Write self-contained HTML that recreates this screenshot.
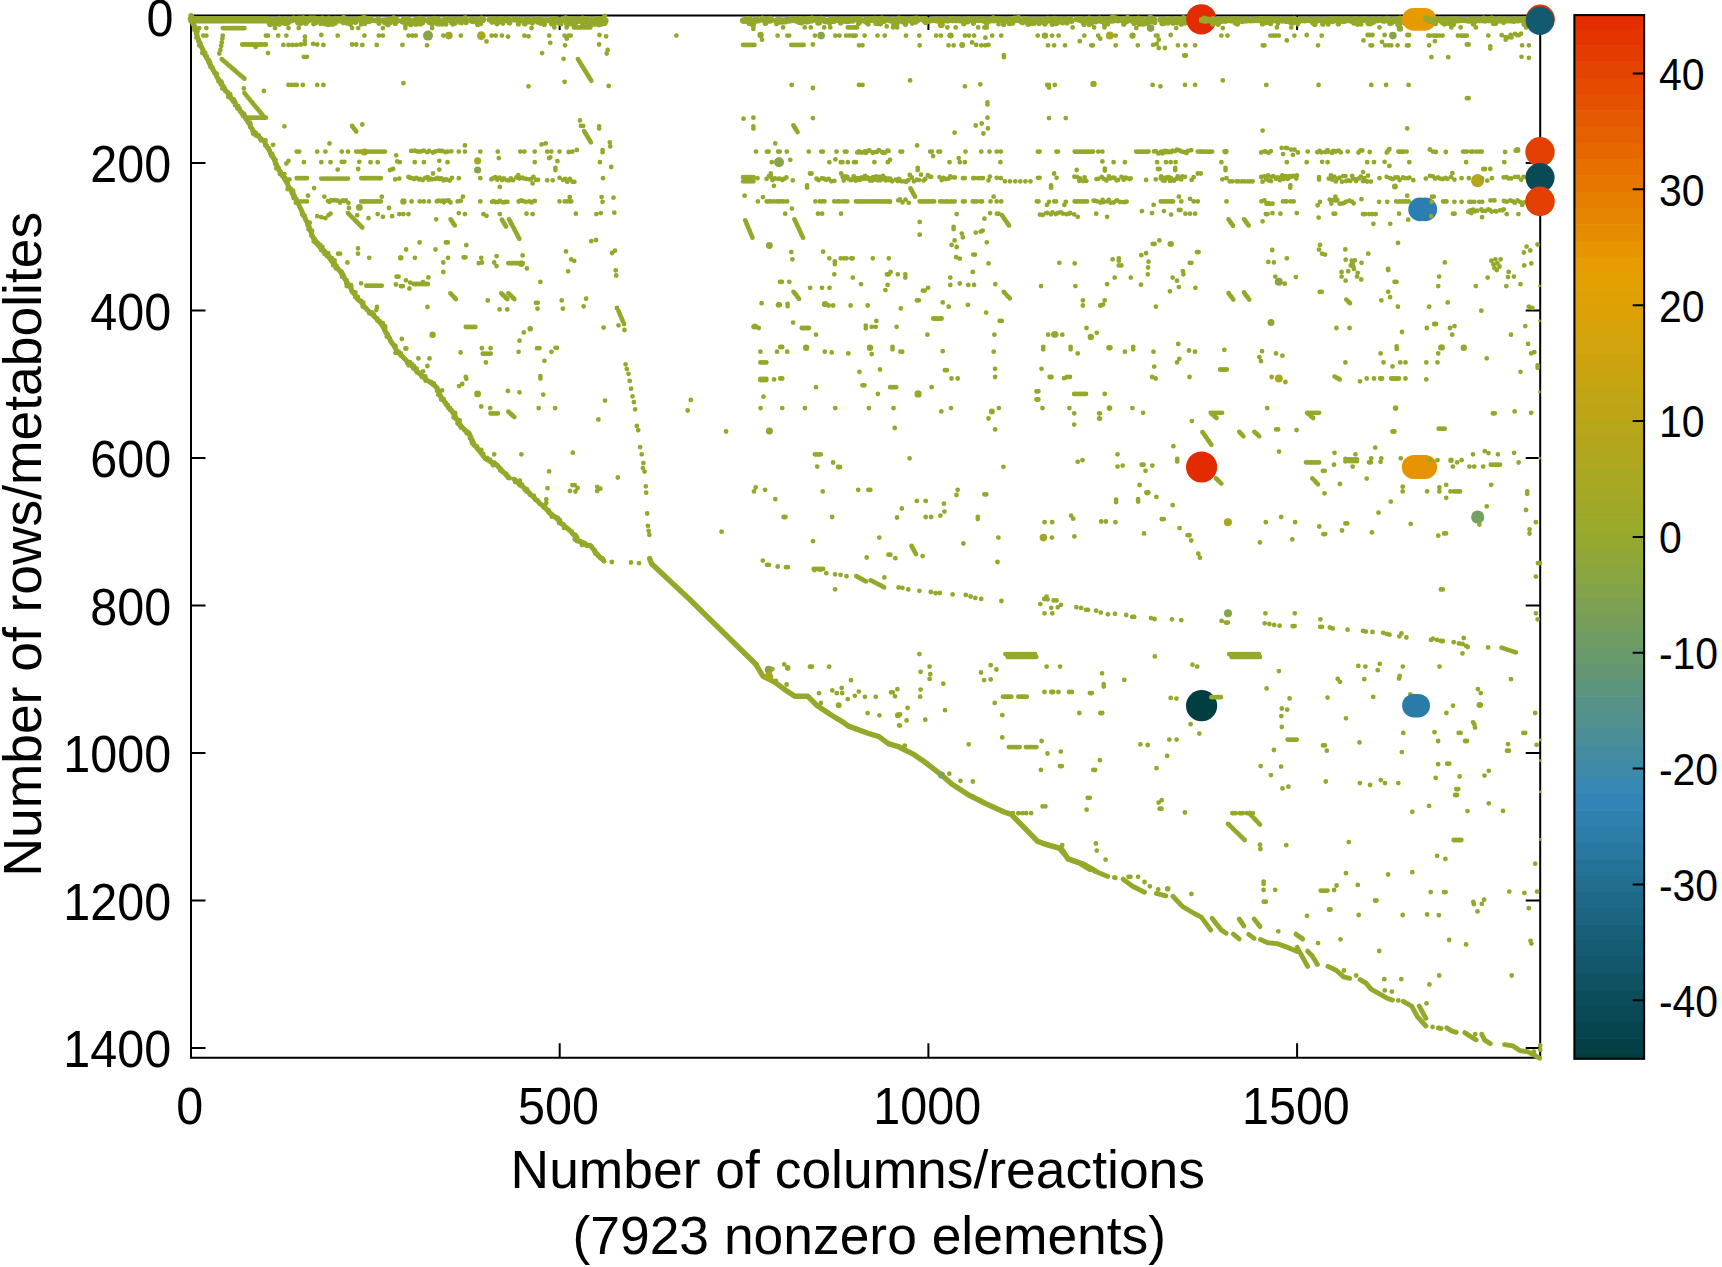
<!DOCTYPE html><html><head><meta charset="utf-8"><title>Sparsity pattern</title><style>html,body{margin:0;padding:0;background:#fff}svg{display:block}</style></head><body><svg width="1722" height="1267" viewBox="0 0 1722 1267" font-family="Liberation Sans, sans-serif" fill="#000">
<rect width="1722" height="1267" fill="#fff"/>
<rect x="1574.4" y="15.10" width="69.7" height="14.30" fill="#e52d00"/>
<rect x="1574.4" y="28.80" width="69.7" height="16.88" fill="#e53400"/>
<rect x="1574.4" y="45.08" width="69.7" height="16.88" fill="#e53b00"/>
<rect x="1574.4" y="61.36" width="69.7" height="16.88" fill="#e54300"/>
<rect x="1574.4" y="77.64" width="69.7" height="16.88" fill="#e54a00"/>
<rect x="1574.4" y="93.92" width="69.7" height="16.88" fill="#e55100"/>
<rect x="1574.4" y="110.20" width="69.7" height="16.88" fill="#e55900"/>
<rect x="1574.4" y="126.48" width="69.7" height="16.88" fill="#e56000"/>
<rect x="1574.4" y="142.76" width="69.7" height="16.88" fill="#e66700"/>
<rect x="1574.4" y="159.04" width="69.7" height="16.88" fill="#e66f00"/>
<rect x="1574.4" y="175.32" width="69.7" height="16.88" fill="#e67600"/>
<rect x="1574.4" y="191.60" width="69.7" height="16.88" fill="#e67e00"/>
<rect x="1574.4" y="207.88" width="69.7" height="16.88" fill="#e68500"/>
<rect x="1574.4" y="224.16" width="69.7" height="16.88" fill="#e68c00"/>
<rect x="1574.4" y="240.44" width="69.7" height="16.88" fill="#e69400"/>
<rect x="1574.4" y="256.72" width="69.7" height="16.88" fill="#e69b00"/>
<rect x="1574.4" y="273.00" width="69.7" height="16.88" fill="#e4a001"/>
<rect x="1574.4" y="289.28" width="69.7" height="16.88" fill="#e0a104"/>
<rect x="1574.4" y="305.56" width="69.7" height="16.88" fill="#dba106"/>
<rect x="1574.4" y="321.84" width="69.7" height="16.88" fill="#d6a209"/>
<rect x="1574.4" y="338.12" width="69.7" height="16.88" fill="#d1a30c"/>
<rect x="1574.4" y="354.40" width="69.7" height="16.88" fill="#cca30f"/>
<rect x="1574.4" y="370.68" width="69.7" height="16.88" fill="#c7a411"/>
<rect x="1574.4" y="386.96" width="69.7" height="16.88" fill="#c2a514"/>
<rect x="1574.4" y="403.24" width="69.7" height="16.88" fill="#bda517"/>
<rect x="1574.4" y="419.52" width="69.7" height="16.88" fill="#b8a61a"/>
<rect x="1574.4" y="435.80" width="69.7" height="16.88" fill="#b3a61c"/>
<rect x="1574.4" y="452.08" width="69.7" height="16.88" fill="#aea71f"/>
<rect x="1574.4" y="468.36" width="69.7" height="16.88" fill="#a9a822"/>
<rect x="1574.4" y="484.64" width="69.7" height="16.88" fill="#a4a825"/>
<rect x="1574.4" y="500.92" width="69.7" height="16.88" fill="#9fa927"/>
<rect x="1574.4" y="517.20" width="69.7" height="16.88" fill="#9baa2a"/>
<rect x="1574.4" y="533.48" width="69.7" height="16.88" fill="#95a92f"/>
<rect x="1574.4" y="549.76" width="69.7" height="16.88" fill="#8fa737"/>
<rect x="1574.4" y="566.04" width="69.7" height="16.88" fill="#89a540"/>
<rect x="1574.4" y="582.32" width="69.7" height="16.88" fill="#82a349"/>
<rect x="1574.4" y="598.60" width="69.7" height="16.88" fill="#7ca051"/>
<rect x="1574.4" y="614.88" width="69.7" height="16.88" fill="#769e5a"/>
<rect x="1574.4" y="631.16" width="69.7" height="16.88" fill="#6f9c63"/>
<rect x="1574.4" y="647.44" width="69.7" height="16.88" fill="#699a6c"/>
<rect x="1574.4" y="663.72" width="69.7" height="16.88" fill="#639774"/>
<rect x="1574.4" y="680.00" width="69.7" height="16.88" fill="#5c957d"/>
<rect x="1574.4" y="696.28" width="69.7" height="16.88" fill="#569386"/>
<rect x="1574.4" y="712.56" width="69.7" height="16.88" fill="#50918f"/>
<rect x="1574.4" y="728.84" width="69.7" height="16.88" fill="#4a8e97"/>
<rect x="1574.4" y="745.12" width="69.7" height="16.88" fill="#438ca0"/>
<rect x="1574.4" y="761.40" width="69.7" height="16.88" fill="#3d8aa9"/>
<rect x="1574.4" y="777.68" width="69.7" height="16.88" fill="#3788b2"/>
<rect x="1574.4" y="793.96" width="69.7" height="16.88" fill="#3185b6"/>
<rect x="1574.4" y="810.24" width="69.7" height="16.88" fill="#2e80af"/>
<rect x="1574.4" y="826.52" width="69.7" height="16.88" fill="#2b7ca7"/>
<rect x="1574.4" y="842.80" width="69.7" height="16.88" fill="#2877a0"/>
<rect x="1574.4" y="859.08" width="69.7" height="16.88" fill="#257298"/>
<rect x="1574.4" y="875.36" width="69.7" height="16.88" fill="#226e91"/>
<rect x="1574.4" y="891.64" width="69.7" height="16.88" fill="#1e6989"/>
<rect x="1574.4" y="907.92" width="69.7" height="16.88" fill="#1b6482"/>
<rect x="1574.4" y="924.20" width="69.7" height="16.88" fill="#18607a"/>
<rect x="1574.4" y="940.48" width="69.7" height="16.88" fill="#155b73"/>
<rect x="1574.4" y="956.76" width="69.7" height="16.88" fill="#12576b"/>
<rect x="1574.4" y="973.04" width="69.7" height="16.88" fill="#0f5264"/>
<rect x="1574.4" y="989.32" width="69.7" height="16.88" fill="#0c4d5c"/>
<rect x="1574.4" y="1005.60" width="69.7" height="16.88" fill="#094955"/>
<rect x="1574.4" y="1021.88" width="69.7" height="16.88" fill="#06444d"/>
<rect x="1574.4" y="1038.16" width="69.7" height="16.88" fill="#024046"/>
<rect x="1574.4" y="1054.44" width="69.7" height="4.36" fill="#003c40"/>
<rect x="1574.4" y="15.1" width="69.7" height="1043.7" fill="none" stroke="#000" stroke-width="2.1"/>
<path d="M1632.7 1000.3H1644.1M1632.7 884.5H1644.1M1632.7 768.6H1644.1M1632.7 652.8H1644.1M1632.7 536.9H1644.1M1632.7 421.0H1644.1M1632.7 305.2H1644.1M1632.7 189.3H1644.1M1632.7 73.5H1644.1" stroke="#000" stroke-width="2" fill="none"/>
<g font-size="41">
<text transform="translate(1658.9 1016.6) scale(1 1.085)">-40</text>
<text transform="translate(1658.9 900.8) scale(1 1.085)">-30</text>
<text transform="translate(1658.9 784.9) scale(1 1.085)">-20</text>
<text transform="translate(1658.9 669.0) scale(1 1.085)">-10</text>
<text transform="translate(1658.9 553.2) scale(1 1.085)">0</text>
<text transform="translate(1658.9 437.3) scale(1 1.085)">10</text>
<text transform="translate(1658.9 321.5) scale(1 1.085)">20</text>
<text transform="translate(1658.9 205.6) scale(1 1.085)">30</text>
<text transform="translate(1658.9 89.8) scale(1 1.085)">40</text>
</g>
<path d="M191.0 15.6H1540.2V1057.8H191.0ZM559.7 1057.8v-14.5M559.7 15.6v14.5M928.4 1057.8v-14.5M928.4 15.6v14.5M1297.1 1057.8v-14.5M1297.1 15.6v14.5M191.0 163.1h14.5M1540.2 163.1h-14.5M191.0 310.6h14.5M1540.2 310.6h-14.5M191.0 458.0h14.5M1540.2 458.0h-14.5M191.0 605.5h14.5M1540.2 605.5h-14.5M191.0 753.0h14.5M1540.2 753.0h-14.5M191.0 900.5h14.5M1540.2 900.5h-14.5M191.0 1048.0h14.5M1540.2 1048.0h-14.5" stroke="#000" stroke-width="2" fill="none"/>
<g font-size="48.5" text-anchor="end">
<text transform="translate(173.4 35.6) scale(1 1.077)">0</text>
<text transform="translate(171.2 182.1) scale(1 1.077)">200</text>
<text transform="translate(171.2 329.6) scale(1 1.077)">400</text>
<text transform="translate(171.2 477.0) scale(1 1.077)">600</text>
<text transform="translate(171.2 624.5) scale(1 1.077)">800</text>
<text transform="translate(171.2 772.0) scale(1 1.077)">1000</text>
<text transform="translate(171.2 919.5) scale(1 1.077)">1200</text>
<text transform="translate(171.2 1067.0) scale(1 1.077)">1400</text>
</g>
<g font-size="48.5" text-anchor="middle">
<text transform="translate(189.8 1123.7) scale(1 1.077)">0</text>
<text transform="translate(558.5 1123.7) scale(1 1.077)">500</text>
<text transform="translate(927.2 1123.7) scale(1 1.077)">1000</text>
<text transform="translate(1295.9 1123.7) scale(1 1.077)">1500</text>
</g>
<g font-size="53.4" text-anchor="middle">
<text x="857.8" y="1188.1">Number of columns/reactions</text>
<text x="869.3" y="1254.2">(7923 nonzero elements)</text>
<text transform="translate(41.2 544.2) rotate(-90)">Number of rows/metabolites</text>
</g>
<g fill="#95a82a" stroke="#95a82a">
<path d="M190.6 15.7L200.3 44.9L210.5 65.4L218.7 79.8L231.0 98.2L245.4 117.7L253.6 131.1L263.9 141.3L272.1 155.7L280.3 172.1L286.4 182.3L296.7 200.8L304.9 217.2L313.1 237.7L321.3 248.0L337.7 268.5" fill="none" stroke-width="4.6" stroke-linecap="round" stroke-linejoin="round"/>
<path d="M314.2 241.2L326.1 253.0L337.9 268.4L347.4 282.6L354.5 294.5L366.3 308.7L380.5 322.9L390.0 339.5L397.1 351.3L408.9 363.1L423.1 377.4L436.2 386.8L442.1 398.7L453.9 414.1L461.0 425.9L469.3 434.2L475.3 446.0L484.7 457.9L496.6 465.0L509.6 478.0" fill="none" stroke-width="4.6" stroke-linecap="round" stroke-linejoin="round"/>
<path d="M513.9 479.2L522.6 486.3L536.8 500.5L551.0 513.5L565.2 526.6L577.1 537.2" fill="none" stroke-width="4.6" stroke-linecap="round" stroke-linejoin="round"/>
<path d="M574.6 539.3L585.3 544.3L591.2 545.9L595.9 553.0L604.2 561.3" fill="none" stroke-width="4.6" stroke-linecap="round" stroke-linejoin="round"/>
<path d="M649.7 558.5L650.1 559.9L651.6 563.7L689.5 599.2L755.8 664.3L762.9 676.2L774.7 682.1L784.2 689.2L794.8 696.3L807.9 696.3L817.3 705.8L831.6 715.3L843.4 722.4L848.1 725.9L867.1 733.0L878.9 736.6L888.4 743.7L900.0 747.2" fill="none" stroke-width="5.4" stroke-linecap="round" stroke-linejoin="round"/>
<path d="M900.0 747.6L914.2 754.7L926.1 763.0L941.4 774.9L952.1 784.3L968.7 795.0L987.6 804.5L1004.2 812.0L1011.3 814.4L1037.4 841.2L1046.8 844.7L1061.0 848.3L1068.1 858.9L1082.4 863.7L1095.4 870.8" fill="none" stroke-width="5.4" stroke-linecap="round" stroke-linejoin="round"/>
<path d="M1037.4 841.3L1047.4 844.9L1059.2 848.4L1068.7 859.1L1080.5 863.8L1090.0 869.7" fill="none" stroke-width="4.9" stroke-linecap="round" stroke-linejoin="round"/>
<path d="M1094.7 870.9L1107.8 876.4" fill="none" stroke-width="4.9" stroke-linecap="round" stroke-linejoin="round"/>
<path d="M1114.4 877.5L1115.3 877.8" fill="none" stroke-width="4.9" stroke-linecap="round" stroke-linejoin="round"/>
<path d="M1123.1 879.2L1132.6 886.3L1144.5 892.2" fill="none" stroke-width="4.9" stroke-linecap="round" stroke-linejoin="round"/>
<path d="M1156.3 893.4L1165.8 895.8" fill="none" stroke-width="4.9" stroke-linecap="round" stroke-linejoin="round"/>
<path d="M1172.9 896.3L1182.4 906.4L1194.2 913.5L1201.3 917.1L1210.8 930.1" fill="none" stroke-width="4.9" stroke-linecap="round" stroke-linejoin="round"/>
<path d="M1212.0 918.3L1221.4 930.1L1226.2 933.2" fill="none" stroke-width="4.9" stroke-linecap="round" stroke-linejoin="round"/>
<path d="M1233.3 934.2L1239.2 938.9" fill="none" stroke-width="4.9" stroke-linecap="round" stroke-linejoin="round"/>
<path d="M1239.2 919.0L1243.9 925.9" fill="none" stroke-width="4.9" stroke-linecap="round" stroke-linejoin="round"/>
<path d="M1254.1 919.0L1260.0 926.6" fill="none" stroke-width="4.9" stroke-linecap="round" stroke-linejoin="round"/>
<path d="M1248.7 934.4L1254.1 938.4" fill="none" stroke-width="4.9" stroke-linecap="round" stroke-linejoin="round"/>
<path d="M1260.5 939.6L1267.6 942.7L1277.1 943.6L1288.9 947.9L1297.2 951.4" fill="none" stroke-width="4.9" stroke-linecap="round" stroke-linejoin="round"/>
<path d="M1296.0 934.2L1302.7 939.1" fill="none" stroke-width="4.9" stroke-linecap="round" stroke-linejoin="round"/>
<path d="M1297.2 947.4L1307.6 966.4" fill="none" stroke-width="4.9" stroke-linecap="round" stroke-linejoin="round"/>
<path d="M1307.6 951.2L1312.3 955.9L1317.4 964.5" fill="none" stroke-width="4.9" stroke-linecap="round" stroke-linejoin="round"/>
<path d="M1328.0 966.4L1336.0 970.2L1343.6 976.8L1349.6 978.3" fill="none" stroke-width="4.9" stroke-linecap="round" stroke-linejoin="round"/>
<path d="M1360.2 979.6L1366.3 983.4L1371.0 989.1L1379.5 993.8L1387.1 998.2L1392.4 1000.1" fill="none" stroke-width="4.9" stroke-linecap="round" stroke-linejoin="round"/>
<path d="M1403.2 1001.4L1411.7 1006.1L1417.4 1016.6L1425.9 1026.0" fill="none" stroke-width="4.9" stroke-linecap="round" stroke-linejoin="round"/>
<path d="M1419.3 1006.1L1425.9 1018.4" fill="none" stroke-width="4.9" stroke-linecap="round" stroke-linejoin="round"/>
<path d="M1438.3 1027.9L1441.1 1028.5" fill="none" stroke-width="4.9" stroke-linecap="round" stroke-linejoin="round"/>
<path d="M1446.8 1027.9L1451.5 1030.8L1456.2 1032.3" fill="none" stroke-width="4.9" stroke-linecap="round" stroke-linejoin="round"/>
<path d="M1464.8 1032.7L1470.5 1036.4L1476.1 1039.8" fill="none" stroke-width="4.9" stroke-linecap="round" stroke-linejoin="round"/>
<path d="M1481.8 1034.2L1484.7 1040.2L1490.3 1043.6" fill="none" stroke-width="4.9" stroke-linecap="round" stroke-linejoin="round"/>
<path d="M1504.5 1044.6L1513.1 1045.9L1519.7 1050.6L1527.3 1051.6L1534.8 1055.4L1539.6 1058.2" fill="none" stroke-width="4.9" stroke-linecap="round" stroke-linejoin="round"/>
<path d="M190.0 18.7h0M191.5 15.5h0M191.9 16.7h0M192.3 20.8h0M192.5 22.2h0M192.7 23.5h0M193.5 19.0h0M194.1 25.8h0M194.1 24.4h0M194.5 29.9h0M195.1 26.9h0M195.7 28.1h0M196.0 30.8h0M196.1 33.6h0M196.4 37.7h0M196.9 36.2h0M197.0 34.7h0M197.5 31.8h0M197.7 38.7h0M198.3 41.3h0M198.7 39.8h0M199.2 45.4h0M199.2 28.1h0M199.3 42.4h0M200.5 43.4h0M200.9 46.1h0M201.7 47.2h0M202.2 48.4h0M202.3 52.9h0M203.1 49.5h0M203.3 35.6h0M203.3 50.9h0M204.6 54.8h0M205.2 53.0h0M205.3 55.9h0M206.4 28.1h0M206.4 35.6h0M206.6 58.3h0M206.9 56.6h0M207.6 59.3h0M208.5 61.9h0M208.9 60.2h0M209.7 64.3h0M210.2 62.5h0M210.5 67.0h0M210.7 65.3h0M212.5 67.4h0M212.6 69.0h0M213.3 70.1h0M214.2 71.2h0M214.3 72.7h0M216.2 73.3h0M216.6 76.2h0M217.0 74.4h0M217.2 77.4h0M218.1 78.5h0M218.5 81.4h0M218.7 79.8h0M219.3 53.5h0M220.4 50.0h0M220.8 84.6h0M220.9 81.4h0M221.2 45.9h0M221.8 82.4h0M221.8 42.4h0M221.8 59.2h0M222.3 88.4h0M222.4 38.7h0M222.4 85.1h0M222.8 28.1h0M222.8 35.6h0M223.0 60.3h0M223.4 86.1h0M224.2 61.3h0M224.4 28.1h0M224.6 90.0h0M224.7 88.3h0M225.3 91.1h0M225.4 62.3h0M225.9 28.1h0M226.6 63.3h0M226.8 91.6h0M227.4 28.1h0M227.7 64.4h0M227.9 92.5h0M228.1 93.9h0M228.3 96.9h0M228.9 65.4h0M229.0 28.1h0M230.1 66.4h0M230.2 94.1h0M230.5 28.1h0M230.9 96.8h0M231.0 98.2h0M231.3 67.4h0M231.6 99.5h0M232.1 28.1h0M232.5 68.5h0M233.3 101.6h0M233.6 28.1h0M233.7 69.5h0M233.8 99.5h0M234.9 70.5h0M235.1 105.2h0M235.1 28.1h0M235.1 101.9h0M235.6 103.2h0M236.1 71.6h0M236.5 105.9h0M236.7 28.1h0M237.2 72.6h0M237.4 108.6h0M238.2 28.1h0M238.3 106.2h0M238.4 73.6h0M239.6 74.6h0M239.7 108.6h0M239.8 28.1h0M239.9 110.1h0M240.1 111.6h0M240.8 75.7h0M241.3 28.1h0M241.7 112.1h0M241.8 113.7h0M242.0 76.7h0M242.3 44.5h0M242.8 28.1h0M243.1 116.1h0M243.2 77.7h0M243.8 88.4h0M243.8 44.5h0M244.1 113.6h0M244.4 28.1h0M244.4 78.7h0M244.4 93.1h0M245.1 116.2h0M245.2 117.8h0M245.3 44.5h0M245.4 94.3h0M245.4 117.7h0M245.7 119.1h0M246.4 95.6h0M246.7 44.5h0M246.8 119.9h0M246.9 117.7h0M247.4 96.8h0M247.5 121.0h0M247.9 122.3h0M248.2 44.5h0M248.3 117.7h0M248.5 98.1h0M249.5 99.3h0M249.7 44.5h0M249.8 117.7h0M249.9 122.6h0M250.1 127.1h0M250.4 125.3h0M250.5 123.8h0M250.5 100.5h0M251.1 128.0h0M251.2 44.5h0M251.3 117.7h0M251.6 101.8h0M252.2 128.8h0M252.5 130.2h0M252.6 103.0h0M252.6 44.5h0M252.7 117.7h0M252.8 131.9h0M253.1 133.5h0M253.6 104.3h0M254.1 44.5h0M254.2 117.7h0M254.6 105.5h0M255.3 134.9h0M255.6 44.5h0M255.6 132.8h0M255.7 46.9h0M255.7 106.8h0M255.7 117.7h0M256.4 135.7h0M256.7 108.0h0M257.1 44.5h0M257.1 117.7h0M257.7 109.2h0M258.5 44.5h0M258.6 117.7h0M258.7 135.3h0M258.7 110.5h0M258.9 136.9h0M259.8 111.7h0M259.9 137.8h0M260.0 44.5h0M260.1 117.7h0M260.3 139.3h0M260.8 113.0h0M261.0 140.4h0M261.5 44.5h0M261.5 117.7h0M261.8 114.2h0M262.8 115.4h0M263.0 44.5h0M263.0 117.7h0M263.2 140.1h0M263.9 91.0h0M263.9 116.7h0M264.4 44.5h0M264.4 117.7h0M265.0 142.2h0M265.2 145.3h0M265.4 143.6h0M265.5 140.4h0M265.9 35.6h0M265.9 44.5h0M265.9 117.7h0M266.8 146.0h0M267.0 147.5h0M268.0 35.6h0M268.0 53.1h0M268.7 148.1h0M268.8 149.6h0M269.8 150.6h0M270.0 152.1h0M270.3 153.5h0M270.6 23.5h0M271.3 156.0h0M272.2 154.0h0M273.1 156.6h0M273.1 144.8h0M273.9 157.7h0M274.1 159.0h0M274.9 161.6h0M275.1 162.9h0M275.1 28.1h0M275.4 164.3h0M275.5 159.8h0M276.2 168.3h0M276.5 24.1h0M276.8 165.0h0M277.2 166.3h0M278.2 35.6h0M278.7 168.5h0M278.8 169.9h0M279.5 24.5h0M279.6 171.0h0M279.8 173.9h0M280.7 171.8h0M281.7 174.3h0M282.0 175.7h0M283.4 44.9h0M283.6 176.3h0M284.2 177.5h0M284.4 126.3h0M284.4 174.1h0M284.4 178.9h0M285.4 179.9h0M285.4 23.9h0M285.4 178.2h0M286.3 180.9h0M286.4 35.6h0M286.4 163.5h0M286.6 182.3h0M287.6 184.7h0M287.6 189.2h0M287.7 183.2h0M287.9 186.1h0M288.5 28.1h0M288.5 44.9h0M288.5 84.9h0M288.5 160.8h0M288.9 187.0h0M289.5 179.3h0M290.8 189.0h0M291.5 190.1h0M291.6 84.9h0M291.8 193.0h0M292.6 44.9h0M292.9 195.4h0M293.1 190.7h0M293.5 193.5h0M293.6 198.0h0M294.6 196.0h0M294.6 84.9h0M295.4 198.5h0M295.9 202.7h0M296.6 200.9h0M296.6 199.3h0M296.7 44.9h0M296.7 84.9h0M296.7 151.6h0M296.7 178.2h0M298.2 178.2h0M298.7 204.2h0M298.7 28.1h0M299.0 202.6h0M299.1 205.5h0M299.2 151.6h0M299.4 206.8h0M299.6 178.2h0M300.1 207.9h0M300.8 44.5h0M300.8 201.4h0M301.0 208.9h0M301.1 178.2h0M301.3 210.2h0M301.7 211.5h0M302.0 214.2h0M302.3 212.7h0M302.6 178.2h0M302.8 215.3h0M302.8 84.9h0M303.9 56.8h0M303.9 162.2h0M303.9 201.4h0M304.0 178.2h0M304.7 215.9h0M304.7 217.3h0M304.9 36.7h0M304.9 43.9h0M304.9 40.8h0M305.0 218.7h0M305.5 178.2h0M305.7 219.9h0M306.5 221.1h0M306.9 56.8h0M306.9 178.2h0M306.9 201.4h0M307.4 225.1h0M307.5 222.1h0M308.0 195.7h0M308.5 229.2h0M309.1 225.9h0M309.5 227.3h0M309.7 230.2h0M309.7 222.7h0M311.1 232.6h0M311.2 235.5h0M311.6 233.9h0M312.1 230.7h0M313.0 236.3h0M313.1 43.9h0M313.1 237.7h0M313.4 24.1h0M313.7 241.6h0M314.0 238.7h0M314.1 188.1h0M314.8 241.4h0M315.1 239.5h0M315.4 241.9h0M315.9 242.2h0M316.3 243.1h0M317.2 44.5h0M317.2 84.9h0M317.2 151.6h0M317.2 216.2h0M317.2 244.1h0M317.6 242.6h0M318.1 245.5h0M318.3 243.7h0M318.3 245.0h0M319.9 247.4h0M320.0 245.7h0M320.3 245.0h0M320.6 246.6h0M321.0 249.9h0M321.3 35.0h0M321.3 162.2h0M321.3 178.6h0M321.3 217.2h0M321.5 247.8h0M321.9 249.3h0M322.3 250.6h0M322.4 246.8h0M322.8 178.6h0M323.3 249.9h0M323.3 251.8h0M323.4 44.9h0M323.4 84.9h0M323.9 250.9h0M324.3 178.6h0M324.4 196.7h0M324.5 23.9h0M324.6 253.8h0M325.0 252.1h0M325.1 251.7h0M325.4 151.6h0M325.4 218.2h0M325.8 178.6h0M325.9 253.1h0M326.6 253.8h0M326.8 255.9h0M327.1 255.1h0M327.2 178.6h0M328.0 201.1h0M328.2 253.1h0M328.4 255.8h0M328.5 215.2h0M328.7 178.6h0M329.1 256.0h0M329.3 257.5h0M329.4 256.7h0M329.4 201.8h0M329.5 143.4h0M329.6 258.1h0M330.1 258.7h0M330.2 178.6h0M330.5 162.2h0M330.5 213.7h0M330.7 259.9h0M331.0 260.4h0M331.1 200.1h0M331.7 178.6h0M331.8 258.1h0M332.4 260.4h0M332.7 262.4h0M333.0 265.2h0M333.1 200.4h0M333.2 178.6h0M333.4 260.2h0M334.1 263.0h0M334.2 264.6h0M334.5 265.8h0M334.5 262.3h0M334.6 260.5h0M334.6 178.6h0M335.1 200.1h0M335.5 266.9h0M335.5 23.4h0M335.6 265.2h0M335.8 268.3h0M336.1 178.6h0M336.4 200.4h0M336.5 267.8h0M336.6 266.0h0M337.5 268.7h0M337.6 178.6h0M337.7 35.6h0M337.7 169.6h0M338.1 253.7h0M338.4 269.7h0M338.4 201.0h0M339.1 178.6h0M339.3 270.6h0M340.0 253.7h0M340.1 202.5h0M340.6 178.6h0M340.9 271.2h0M341.8 272.1h0M341.8 151.6h0M341.8 161.8h0M341.8 273.7h0M342.0 276.7h0M342.1 178.6h0M342.7 200.4h0M343.1 274.4h0M343.5 178.6h0M344.0 201.0h0M344.2 276.8h0M344.3 161.8h0M344.3 278.3h0M345.0 279.5h0M345.0 178.6h0M345.9 200.3h0M346.3 283.2h0M346.4 281.7h0M346.5 280.1h0M346.5 178.6h0M346.6 23.3h0M346.8 286.2h0M347.4 262.5h0M348.0 151.6h0M348.0 178.6h0M348.0 213.1h0M348.1 283.8h0M348.4 202.9h0M349.0 208.0h0M349.1 214.2h0M350.2 215.3h0M350.8 288.6h0M351.1 290.1h0M351.1 285.2h0M351.3 216.4h0M351.3 286.7h0M351.7 291.3h0M352.1 28.1h0M352.1 44.5h0M352.1 125.9h0M352.4 217.5h0M352.5 292.4h0M353.1 127.3h0M353.5 218.6h0M354.1 128.7h0M354.6 219.7h0M354.9 294.1h0M355.2 130.1h0M355.3 297.2h0M355.3 295.5h0M355.4 292.3h0M355.7 220.9h0M356.2 44.5h0M356.2 131.5h0M356.2 151.6h0M356.8 222.0h0M357.2 215.2h0M357.3 299.0h0M357.7 151.6h0M357.8 296.8h0M357.9 223.1h0M358.0 248.3h0M358.0 253.7h0M358.0 300.1h0M358.2 28.1h0M358.2 169.0h0M359.0 224.2h0M359.2 151.6h0M359.3 161.8h0M359.5 300.6h0M360.1 225.3h0M360.7 151.6h0M361.1 283.3h0M361.1 300.9h0M361.2 226.4h0M361.3 178.2h0M361.3 201.4h0M362.0 301.9h0M362.2 151.6h0M362.3 44.9h0M362.3 124.5h0M362.3 227.5h0M362.7 306.5h0M362.8 178.2h0M362.8 201.4h0M363.0 304.5h0M363.3 302.6h0M363.7 151.6h0M364.3 306.9h0M364.3 178.2h0M364.3 201.4h0M364.4 35.6h0" fill="none" stroke-width="4.80" stroke-linecap="round"/>
<path d="M273.6 24.0h0M274.3 24.3h0M286.9 22.3h0M306.0 23.3h0M315.6 22.8h0M320.8 23.5h0M325.9 23.7h0M331.8 23.5h0M343.6 22.7h0M350.3 24.3h0M361.3 24.1h0M364.3 22.5h0" fill="none" stroke-width="5.20" stroke-linecap="round"/>
<path d="M191.0 19.0h0M191.0 20.8h0M191.7 19.0h0M191.7 20.8h0M192.5 19.0h0M192.5 20.8h0M193.2 19.0h0M193.2 20.8h0M193.9 19.0h0M193.9 20.8h0M194.7 19.0h0M194.7 20.8h0M195.4 19.0h0M195.4 20.8h0M196.2 19.0h0M196.2 20.8h0M196.9 19.0h0M196.9 20.8h0M197.6 19.0h0M197.6 20.8h0M198.4 19.0h0M198.4 20.8h0M199.1 19.0h0M199.1 20.8h0M199.8 19.0h0M199.8 20.8h0M200.6 19.0h0M200.6 20.8h0M201.3 19.0h0M201.3 20.8h0M202.1 19.0h0M202.1 20.8h0M202.8 19.0h0M202.8 20.8h0M203.5 19.0h0M203.5 20.8h0M204.3 19.0h0M204.3 20.8h0M205.0 19.0h0M205.0 20.8h0M205.7 19.0h0M205.7 20.8h0M206.5 19.0h0M206.5 20.8h0M207.2 19.0h0M207.2 20.8h0M208.0 19.0h0M208.0 20.8h0M208.7 19.0h0M208.7 20.8h0M209.4 19.0h0M209.4 20.8h0M210.2 19.0h0M210.2 20.8h0M210.9 19.0h0M210.9 20.8h0M211.6 19.0h0M211.6 20.8h0M212.4 19.0h0M212.4 20.8h0M213.1 19.0h0M213.1 20.8h0M213.9 19.0h0M213.9 20.8h0M214.6 19.0h0M214.6 20.8h0M215.3 19.0h0M215.3 20.8h0M216.1 19.0h0M216.1 20.8h0M216.8 19.0h0M216.8 20.8h0M217.5 19.0h0M217.5 20.8h0M218.3 19.0h0M218.3 20.8h0M219.0 19.0h0M219.0 20.8h0M219.8 19.0h0M219.8 20.8h0M220.5 19.0h0M220.5 20.8h0M221.2 19.0h0M221.2 20.8h0M222.0 19.0h0M222.0 20.8h0M222.7 19.0h0M222.7 20.8h0M223.4 19.0h0M223.4 20.8h0M224.2 19.0h0M224.2 20.8h0M224.9 19.0h0M224.9 20.8h0M225.7 19.0h0M225.7 20.8h0M226.4 19.0h0M226.4 20.8h0M227.1 19.0h0M227.1 20.8h0M227.9 19.0h0M227.9 20.8h0M228.6 19.0h0M228.6 20.8h0M229.3 19.0h0M229.3 20.8h0M230.1 19.0h0M230.1 20.8h0M230.8 19.0h0M230.8 20.8h0M231.6 19.0h0M231.6 20.8h0M232.3 19.0h0M232.3 20.8h0M233.0 19.0h0M233.0 20.8h0M233.8 19.0h0M233.8 20.8h0M234.5 19.0h0M234.5 20.8h0M235.2 19.0h0M235.2 20.8h0M236.0 19.0h0M236.0 20.8h0M236.7 19.0h0M236.7 20.8h0M237.5 19.0h0M237.5 20.8h0M238.2 19.0h0M238.2 20.8h0M238.9 19.0h0M238.9 20.8h0M239.7 19.0h0M239.7 20.8h0M240.4 19.0h0M240.4 20.8h0M241.1 19.0h0M241.1 20.8h0M241.9 19.0h0M241.9 20.8h0M242.6 19.0h0M242.6 20.8h0M243.4 19.0h0M243.4 20.8h0M244.1 19.0h0M244.1 20.8h0M244.8 19.0h0M244.8 20.8h0M245.6 19.0h0M245.6 20.8h0M246.3 19.0h0M246.3 20.8h0M247.0 19.0h0M247.0 20.8h0M247.8 19.0h0M247.8 20.8h0M248.5 19.0h0M248.5 20.8h0M249.3 19.0h0M249.3 20.8h0M250.0 19.0h0M250.0 20.8h0M250.7 19.0h0M250.7 20.8h0M251.5 19.0h0M251.5 20.8h0M252.2 19.0h0M252.2 20.8h0M252.9 19.0h0M252.9 20.8h0M253.7 19.0h0M253.7 20.8h0M254.4 19.0h0M254.4 20.8h0M255.2 19.0h0M255.2 20.8h0M255.9 19.0h0M255.9 20.8h0M256.6 19.0h0M256.6 20.8h0M257.4 19.0h0M257.4 20.8h0M258.1 19.0h0M258.1 20.8h0M258.8 19.0h0M258.8 20.8h0M259.6 19.0h0M259.6 20.8h0M260.3 19.0h0M260.3 20.8h0M261.1 19.0h0M261.1 20.8h0M261.8 19.0h0M261.8 20.8h0M262.5 19.0h0M262.5 20.8h0M263.3 19.0h0M263.3 20.8h0M264.0 19.0h0M264.0 20.8h0M264.7 19.0h0M264.7 20.8h0M265.5 19.0h0M265.5 20.8h0M266.2 19.0h0M266.2 20.8h0M267.0 19.0h0M267.0 20.8h0M267.7 19.0h0M267.7 20.8h0M269.9 24.5h0M270.6 20.7h0M273.6 20.0h0M274.3 21.4h0M275.1 19.6h0M276.5 20.4h0M277.3 20.4h0M278.0 21.1h0M280.2 20.9h0M282.4 22.6h0M283.2 19.7h0M285.4 20.5h0M287.6 23.1h0M294.2 19.1h0M297.9 22.7h0M300.1 20.6h0M300.1 23.4h0M300.9 20.6h0M302.3 22.4h0M303.8 20.5h0M304.6 20.6h0M306.0 18.9h0M309.0 18.8h0M314.1 19.6h0M323.7 20.5h0M325.9 20.9h0M328.2 24.5h0M330.4 19.1h0M330.4 23.8h0M331.8 20.1h0M332.6 20.3h0M332.6 24.1h0M334.8 19.6h0M335.5 18.6h0M340.0 19.0h0M340.7 20.7h0M341.4 21.0h0M342.2 19.6h0M342.9 20.2h0M348.1 20.7h0M348.8 19.9h0M356.9 20.0h0M357.7 19.2h0M359.1 19.1h0M359.9 19.7h0M360.6 19.9h0M361.3 20.0h0M362.8 18.7h0" fill="none" stroke-width="5.60" stroke-linecap="round"/>
<path d="M268.4 20.7h0M269.2 19.6h0M269.9 21.2h0M271.4 20.8h0M272.1 20.2h0M279.5 18.8h0M281.0 19.5h0M283.9 21.5h0M287.6 20.3h0M288.3 20.6h0M289.1 21.6h0M291.3 20.2h0M295.7 19.5h0M296.4 20.0h0M297.2 19.8h0M297.9 20.6h0M301.6 19.8h0M302.3 21.1h0M303.1 18.2h0M306.8 19.3h0M307.5 21.0h0M310.5 19.8h0M311.9 18.6h0M313.4 18.8h0M318.6 20.3h0M320.8 20.9h0M323.0 20.6h0M324.5 20.1h0M325.2 20.3h0M328.9 18.6h0M331.1 20.7h0M333.3 21.7h0M334.1 20.7h0M337.0 19.2h0M343.6 17.9h0M344.4 20.8h0M345.9 19.5h0M347.3 21.7h0M349.5 19.4h0M353.2 20.7h0M354.0 19.6h0M354.7 19.9h0M355.4 21.9h0M362.1 18.6h0" fill="none" stroke-width="6.00" stroke-linecap="round"/>
<path d="M272.9 22.5h0M275.8 20.6h0M284.6 19.5h0M286.1 19.1h0M292.0 19.6h0M293.5 18.7h0M298.7 20.0h0M299.4 18.8h0M305.3 19.2h0M309.7 18.8h0M314.9 18.8h0M315.6 19.9h0M316.4 19.4h0M317.1 19.3h0M322.3 18.7h0M327.4 19.9h0M337.7 20.6h0M350.3 22.1h0M364.3 18.1h0" fill="none" stroke-width="6.40" stroke-linecap="round"/>
<path d="M359.3 207.4h0" fill="none" stroke-width="6.80" stroke-linecap="round"/>
<circle cx="364.4" cy="152.0" r="3.6" fill="#a8a81c" stroke="none"/>
<path d="M365.0 23.8h0M365.3 151.6h0M365.3 307.8h0M365.8 178.2h0M365.8 201.4h0M366.3 285.7h0M366.4 308.6h0M366.8 151.6h0M367.1 309.8h0M367.3 178.2h0M367.3 201.4h0M367.9 285.7h0M368.0 310.7h0M368.3 151.6h0M368.5 218.2h0M368.8 178.2h0M368.8 201.4h0M369.1 311.6h0M369.2 257.8h0M369.3 313.3h0M369.4 285.7h0M369.8 151.6h0M370.3 178.2h0M370.3 201.4h0M370.5 162.2h0M370.9 285.7h0M371.3 151.6h0M371.8 178.2h0M371.8 201.4h0M372.0 312.4h0M372.4 313.9h0M372.5 285.7h0M372.8 151.6h0M373.3 178.2h0M373.3 201.4h0M373.9 314.4h0M373.9 316.2h0M374.0 285.7h0M374.3 151.6h0M374.8 178.2h0M374.8 201.4h0M375.1 317.0h0M375.5 285.7h0M375.8 151.6h0M375.9 318.0h0M376.3 309.9h0M376.3 178.2h0M376.3 201.4h0M376.7 44.9h0M377.0 307.0h0M377.1 285.7h0M377.3 318.5h0M377.3 320.4h0M377.4 151.6h0M377.7 162.2h0M377.7 214.1h0M377.8 178.2h0M377.8 201.4h0M378.3 321.3h0M378.6 285.7h0M378.8 35.6h0M378.9 151.6h0M379.3 178.2h0M379.3 201.4h0M380.1 321.4h0M380.2 285.7h0M380.2 323.1h0M380.4 151.6h0M380.8 178.2h0M380.8 201.4h0M381.7 285.7h0M381.8 196.7h0M381.9 151.6h0M382.2 325.1h0M382.9 28.1h0M382.9 35.6h0M382.9 216.8h0M382.9 323.1h0M383.4 151.6h0M383.7 325.8h0M384.4 330.1h0M384.9 151.6h0M385.2 326.5h0M385.2 328.0h0M385.3 331.1h0M385.5 332.6h0M386.6 333.5h0M386.7 336.6h0M387.8 334.5h0M388.8 337.0h0M389.0 208.0h0M389.6 338.1h0M389.8 339.6h0M390.0 170.0h0M390.3 340.9h0M391.3 341.9h0M391.8 343.2h0M392.1 216.2h0M393.1 344.1h0M393.1 169.0h0M394.1 345.1h0M395.0 347.7h0M395.2 179.3h0M395.4 345.9h0M395.5 352.9h0M395.6 349.0h0M395.9 284.5h0M396.1 350.3h0M396.2 155.3h0M396.6 276.7h0M397.2 161.4h0M398.5 276.7h0M398.7 351.7h0M399.1 353.2h0M399.3 178.6h0M399.3 214.1h0M399.7 162.2h0M400.8 355.5h0M400.9 286.2h0M400.9 353.4h0M401.8 339.0h0M402.2 356.1h0M402.4 44.9h0M402.8 286.2h0M403.1 357.2h0M403.4 83.2h0M403.4 214.1h0M403.9 358.3h0M404.8 23.7h0M405.0 359.2h0M405.4 348.5h0M405.4 28.1h0M405.9 280.3h0M406.0 360.2h0M406.1 249.5h0M406.3 348.5h0M406.8 361.3h0M407.1 363.0h0M408.4 176.9h0M408.5 35.6h0M408.5 214.1h0M408.7 365.3h0M409.4 288.5h0M409.6 177.5h0M409.9 362.2h0M410.1 282.6h0M411.2 150.9h0M411.6 201.4h0M411.9 364.0h0M412.4 365.4h0M412.6 35.6h0M412.7 178.4h0M413.2 368.3h0M413.7 284.0h0M413.9 365.8h0M414.2 179.0h0M414.6 150.7h0M414.7 162.2h0M414.9 257.8h0M415.3 284.0h0M415.4 368.1h0M415.7 35.6h0M416.4 177.8h0M416.6 370.6h0M416.7 368.7h0M416.8 284.0h0M416.8 372.3h0M416.9 151.3h0M418.4 358.4h0M418.4 284.0h0M418.6 372.5h0M418.6 151.6h0M419.0 179.4h0M419.4 373.6h0M419.6 23.5h0M419.6 242.4h0M419.8 201.4h0M420.0 284.0h0M420.2 178.9h0M421.0 373.9h0M421.2 151.4h0M421.5 375.3h0M421.6 284.0h0M421.8 376.8h0M422.7 180.2h0M423.1 282.2h0M423.1 284.0h0M423.1 371.4h0M423.6 376.7h0M423.8 150.7h0M423.9 162.2h0M423.9 201.4h0M424.7 284.0h0M425.1 177.8h0M425.4 376.5h0M425.5 378.6h0M425.6 380.8h0M426.3 284.0h0M427.0 45.3h0M427.2 152.2h0M427.3 380.7h0M427.4 307.0h0M427.4 366.0h0M427.6 177.1h0M427.9 284.0h0" fill="none" stroke-width="4.80" stroke-linecap="round"/>
<path d="M379.0 23.3h0M384.9 22.8h0M390.1 22.6h0M395.3 23.5h0M405.6 24.5h0M408.5 23.0h0M416.6 23.8h0M420.3 24.0h0" fill="none" stroke-width="5.20" stroke-linecap="round"/>
<path d="M365.0 19.6h0M366.5 19.9h0M368.7 21.5h0M369.5 19.4h0M371.7 20.3h0M374.6 20.5h0M377.6 19.6h0M379.0 19.8h0M382.7 20.2h0M383.5 20.8h0M384.9 20.3h0M385.7 20.2h0M387.9 20.8h0M387.9 24.4h0M393.0 20.0h0M397.5 20.8h0M400.7 257.8h0M403.4 19.5h0M405.6 18.9h0M408.5 20.9h0M409.3 19.9h0M410.0 20.0h0M410.7 24.4h0M415.9 23.9h0M421.1 23.1h0M422.5 22.6h0M424.0 20.1h0" fill="none" stroke-width="5.60" stroke-linecap="round"/>
<path d="M365.8 21.2h0M376.8 20.6h0M378.3 19.8h0M384.2 20.8h0M388.6 19.8h0M389.4 20.0h0M390.1 20.1h0M393.8 18.2h0M394.5 20.4h0M396.7 19.7h0M404.1 19.9h0M404.8 20.8h0M407.1 20.7h0M407.8 20.9h0M410.7 20.9h0M415.2 19.9h0M418.9 20.9h0M419.6 18.7h0M421.1 20.4h0" fill="none" stroke-width="6.00" stroke-linecap="round"/>
<path d="M368.0 19.3h0M370.2 20.3h0M370.9 19.1h0M386.4 20.6h0M392.3 20.0h0M402.6 21.2h0M403.4 201.4h0M406.3 20.3h0M416.6 19.5h0M417.4 20.5h0M418.1 20.9h0M420.3 20.4h0M421.8 19.5h0M422.5 20.3h0M423.3 19.9h0" fill="none" stroke-width="6.40" stroke-linecap="round"/>
<circle cx="428.0" cy="35.6" r="5" fill="#86a548" stroke="none"/>
<path d="M428.4 277.4h0M428.6 381.2h0M428.7 179.7h0M429.0 201.4h0M429.2 151.0h0M429.5 358.4h0M430.0 381.7h0M430.3 178.6h0M431.2 382.2h0M432.1 28.1h0M432.2 179.3h0M432.3 383.1h0M432.9 152.5h0M433.0 384.3h0M433.1 173.5h0M433.8 383.3h0M434.3 384.9h0M435.3 385.8h0M435.4 178.9h0M435.4 151.4h0M435.5 249.5h0M435.7 387.1h0M436.2 219.3h0M436.9 201.4h0M437.1 390.8h0M437.2 387.8h0M437.6 389.1h0M437.6 177.9h0M438.3 394.7h0M438.3 200.6h0M438.7 391.5h0M438.9 392.9h0M438.9 150.7h0M439.3 160.8h0M439.3 169.6h0M439.4 179.0h0M439.5 24.3h0M439.6 395.5h0M440.5 396.5h0M440.6 201.0h0M441.0 23.9h0M441.1 399.5h0M441.3 178.5h0M441.3 151.1h0M441.3 397.6h0M442.1 390.4h0M442.4 150.8h0M443.3 200.7h0M443.3 262.5h0M443.3 272.0h0M443.4 35.6h0M443.7 399.2h0M443.7 180.4h0M443.8 400.9h0M443.9 202.3h0M444.7 402.0h0M445.2 179.3h0M445.4 152.2h0M445.8 402.8h0M445.8 404.5h0M445.9 242.4h0M446.1 24.4h0M446.6 179.5h0M446.6 200.7h0M447.5 162.2h0M447.7 404.9h0M447.7 151.7h0M447.8 242.4h0M447.8 406.5h0M448.0 257.8h0M448.3 407.9h0M448.6 200.5h0" fill="none" stroke-width="4.80" stroke-linecap="round"/>
<path d="M429.2 22.5h0M437.3 23.8h0" fill="none" stroke-width="5.20" stroke-linecap="round"/>
<path d="M430.7 20.0h0M431.4 19.8h0M432.1 19.4h0M432.1 24.0h0M433.6 21.0h0M441.0 21.1h0M442.5 21.6h0M442.5 24.0h0M443.2 20.0h0M445.4 19.7h0M446.1 18.8h0" fill="none" stroke-width="5.60" stroke-linecap="round"/>
<path d="M428.4 20.5h0M429.2 19.5h0M434.3 18.8h0M439.5 20.7h0M440.2 20.8h0M443.9 21.2h0M444.7 19.9h0M447.6 20.3h0" fill="none" stroke-width="6.00" stroke-linecap="round"/>
<path d="M432.6 334.7h0M432.9 20.2h0M436.6 20.5h0M437.3 19.5h0M438.0 19.8h0M438.8 20.6h0M441.7 21.9h0" fill="none" stroke-width="6.40" stroke-linecap="round"/>
<circle cx="448.9" cy="35.6" r="3.8" fill="#9fa822" stroke="none"/>
<path d="M449.6 180.6h0M450.2 410.0h0M450.2 408.2h0M450.4 293.3h0M450.5 202.4h0M450.6 219.3h0M451.3 22.9h0M451.3 151.3h0M451.4 220.5h0M451.5 294.5h0M451.8 410.5h0M451.9 177.8h0M452.2 221.7h0M452.4 411.7h0M452.6 295.7h0M452.8 413.2h0M452.8 24.4h0M453.0 223.0h0M453.6 417.5h0M453.7 296.8h0M453.8 224.2h0M453.9 414.1h0M454.7 225.4h0M454.7 298.0h0M455.1 412.9h0M455.1 415.0h0M455.8 299.2h0M456.0 417.7h0M456.1 419.2h0M457.5 423.2h0M457.5 420.0h0M457.7 201.4h0M458.5 424.2h0M458.8 151.6h0M458.8 178.2h0M458.8 213.1h0M459.1 386.1h0M459.7 420.3h0M460.2 22.7h0M460.3 426.6h0M460.3 424.7h0M460.6 352.5h0M460.8 35.6h0M460.8 200.8h0M461.1 427.7h0M461.6 23.1h0M462.2 384.0h0M462.7 428.0h0M462.9 196.7h0M463.6 257.3h0M463.7 428.8h0M464.2 430.1h0M464.9 145.4h0M464.9 151.6h0M464.9 214.1h0M465.4 430.7h0M465.5 257.3h0M465.8 326.9h0M465.8 376.9h0M466.3 245.2h0M466.3 378.8h0M466.7 433.2h0M466.7 431.3h0M467.4 326.9h0M468.9 326.9h0M468.9 432.7h0M469.6 434.1h0M469.6 435.5h0M470.0 438.3h0M470.5 326.9h0M470.9 436.4h0M471.1 439.2h0M471.4 440.5h0M471.9 443.3h0M472.1 326.9h0M472.8 441.4h0M473.2 444.1h0M473.7 326.9h0M473.9 445.3h0M475.2 446.1h0M475.3 326.9h0M477.0 446.4h0M477.5 447.7h0" fill="none" stroke-width="4.80" stroke-linecap="round"/>
<path d="M454.3 23.2h0M466.1 22.6h0" fill="none" stroke-width="5.20" stroke-linecap="round"/>
<path d="M449.8 19.2h0M450.6 19.3h0M452.8 19.4h0M457.9 19.8h0M462.4 20.0h0M463.8 20.1h0M464.6 19.7h0M466.1 20.7h0M470.5 20.3h0M471.2 19.3h0M471.9 20.7h0M473.4 20.6h0M474.9 20.6h0" fill="none" stroke-width="5.60" stroke-linecap="round"/>
<path d="M453.5 20.4h0M455.0 22.4h0M455.7 20.5h0M460.2 19.7h0M460.9 20.4h0M472.7 21.3h0M474.2 20.6h0M475.6 19.3h0" fill="none" stroke-width="6.00" stroke-linecap="round"/>
<path d="M454.3 20.0h0M458.7 19.8h0M465.3 18.4h0" fill="none" stroke-width="6.40" stroke-linecap="round"/>
<path d="M477.6 393.9h0" fill="none" stroke-width="6.80" stroke-linecap="round"/>
<circle cx="477.6" cy="160.8" r="3.6" fill="#a3a820" stroke="none"/>
<circle cx="477.6" cy="170.0" r="3.6" fill="#86a548" stroke="none"/>
<path d="M477.7 449.4h0M478.8 263.2h0M479.3 449.9h0M480.3 151.6h0M480.3 178.2h0M480.3 201.4h0M480.8 23.9h0M481.1 452.0h0M481.2 257.8h0M481.2 406.5h0M481.3 450.0h0" fill="none" stroke-width="4.80" stroke-linecap="round"/>
<path d="M479.3 22.4h0" fill="none" stroke-width="5.20" stroke-linecap="round"/>
<path d="M477.8 24.3h0" fill="none" stroke-width="5.60" stroke-linecap="round"/>
<path d="M480.1 20.6h0" fill="none" stroke-width="6.00" stroke-linecap="round"/>
<path d="M478.6 21.0h0" fill="none" stroke-width="6.40" stroke-linecap="round"/>
<circle cx="481.3" cy="35.6" r="4.3" fill="#a9a81a" stroke="none"/>
<path d="M481.5 453.4h0M481.9 262.5h0M481.9 348.2h0M482.8 353.7h0M482.9 455.8h0M483.2 453.8h0M483.4 214.1h0M483.9 456.8h0M484.4 353.7h0M484.9 457.6h0M485.6 459.1h0M485.9 362.4h0M486.0 353.7h0M486.5 41.4h0M486.5 215.8h0M486.8 459.8h0M487.1 457.9h0M487.5 353.7h0M487.8 300.4h0M488.1 460.3h0M489.1 353.7h0M490.0 459.7h0M490.2 408.1h0M490.4 461.9h0M490.6 348.2h0M490.6 353.7h0M490.6 413.4h0M491.3 179.3h0M491.6 35.6h0M491.8 462.2h0M491.9 22.5h0M492.1 413.4h0M492.1 201.8h0M492.3 464.0h0M492.8 178.5h0M493.2 465.3h0M493.2 201.2h0M493.5 413.4h0M494.2 262.5h0M494.2 454.3h0M494.2 462.6h0M494.9 413.4h0M495.2 202.0h0M495.3 177.1h0M495.6 464.0h0M495.7 35.6h0M496.3 413.4h0M496.6 256.1h0M496.6 266.1h0M496.8 464.8h0M497.3 179.7h0M497.7 465.7h0M497.8 413.4h0M497.8 151.6h0M498.0 202.0h0M498.3 467.0h0M498.8 158.1h0M499.4 467.7h0M499.6 177.6h0M499.6 309.4h0M499.8 186.9h0M499.8 214.1h0M499.9 200.9h0M500.3 470.5h0M500.4 468.6h0M501.3 293.3h0M501.8 470.9h0M501.9 35.6h0M501.9 219.7h0M502.2 22.7h0M502.2 180.1h0M502.5 294.5h0M502.6 472.0h0M502.7 221.0h0M502.9 202.4h0M502.9 23.5h0M503.5 222.4h0M503.7 295.7h0M503.8 472.6h0M503.9 178.4h0M504.3 223.7h0M504.8 473.5h0M504.9 296.8h0M505.1 202.0h0M505.1 225.1h0M506.0 226.5h0M506.0 298.0h0M506.3 473.9h0M506.4 475.7h0M506.9 180.2h0M507.2 299.2h0M507.2 309.4h0M507.3 201.9h0M507.7 476.2h0M507.9 390.9h0M508.0 477.8h0M508.0 36.7h0M508.4 263.2h0M508.4 293.3h0M508.4 411.7h0M508.8 22.7h0M509.0 219.3h0M509.5 180.1h0M509.6 294.5h0M509.6 412.8h0M509.8 220.7h0M510.0 263.2h0M510.5 222.1h0M510.8 295.7h0M510.8 413.9h0M510.8 178.3h0M511.2 223.5h0M511.6 263.2h0M512.0 296.8h0M512.0 415.0h0M512.0 224.8h0M512.7 226.2h0M513.1 180.2h0M513.1 263.2h0M513.1 298.0h0M513.1 416.1h0M513.4 227.6h0M513.9 479.2h0M514.2 229.0h0M514.3 299.2h0M514.3 417.1h0M514.7 263.2h0M514.9 230.4h0M515.2 479.8h0M515.2 482.0h0M515.6 231.8h0M516.3 263.2h0M516.4 177.3h0M516.4 233.2h0M517.1 481.9h0M517.1 234.6h0M517.2 177.6h0M517.8 236.0h0M517.9 263.2h0M518.3 175.2h0M518.6 237.4h0M518.6 351.8h0M518.7 201.5h0M518.9 484.2h0M519.3 238.8h0M519.5 263.2h0M519.5 178.6h0M519.5 340.7h0M519.5 392.3h0M519.8 485.3h0M519.9 480.7h0M520.3 151.6h0M521.0 263.2h0M521.2 200.5h0M521.4 454.3h0M522.1 484.7h0M522.3 177.7h0M522.4 486.5h0M522.6 255.4h0M522.6 263.2h0M522.9 201.0h0M523.4 487.4h0M523.5 178.3h0M523.8 332.4h0M524.4 35.6h0M524.4 151.6h0M524.6 488.1h0M524.8 489.8h0M525.7 201.8h0M526.3 178.9h0M526.5 213.7h0M526.6 491.7h0M526.9 268.4h0M527.1 489.3h0M528.4 491.9h0M528.5 36.3h0M528.5 86.3h0M529.3 201.3h0M529.4 492.8h0M529.5 179.4h0M529.7 494.4h0M530.8 495.2h0M530.9 179.1h0M531.5 202.4h0M531.6 28.1h0M531.7 22.6h0M532.6 495.3h0M532.6 183.4h0M532.6 214.1h0M533.4 176.9h0M533.9 495.9h0M533.9 201.2h0M534.1 497.5h0M534.7 151.6h0M534.7 162.2h0M534.8 200.9h0M535.0 498.6h0M535.5 499.9h0M535.9 302.8h0M536.0 179.8h0M537.1 348.2h0M537.2 500.2h0M537.5 308.7h0M537.8 302.8h0M538.1 501.1h0M538.1 179.8h0M538.7 408.1h0M538.8 502.4h0M539.4 348.2h0M539.5 503.7h0M540.4 281.9h0M540.4 376.2h0M540.4 378.5h0M540.5 23.6h0M540.8 504.3h0M541.3 22.5h0M541.6 144.4h0M542.1 53.1h0M542.1 504.9h0M543.2 394.6h0M543.6 505.4h0M543.6 507.4h0M544.1 22.7h0M544.4 360.8h0M545.5 507.3h0M545.7 143.4h0M546.1 508.7h0M546.3 499.3h0M546.3 502.9h0M546.8 510.0h0M547.2 151.6h0M547.2 180.3h0M547.5 488.2h0M548.4 512.3h0M548.6 510.1h0M549.1 471.4h0M549.2 35.6h0M549.2 158.1h0M549.4 513.3h0M550.3 42.8h0M550.3 157.3h0M550.5 514.1h0M551.3 151.6h0M551.5 351.8h0M551.8 514.7h0M551.8 516.7h0M552.3 24.4h0M552.7 180.3h0M554.2 516.2h0M554.4 27.4h0M555.1 408.1h0M555.3 23.1h0M555.3 517.0h0M555.4 168.0h0M555.4 170.0h0M555.5 347.8h0M556.7 517.5h0M557.0 347.8h0M557.4 161.2h0M558.0 518.2h0M558.7 519.4h0M559.0 23.5h0M559.1 523.1h0M559.5 151.6h0M559.5 177.8h0M559.5 201.4h0M559.9 520.1h0M560.8 523.3h0M561.2 24.2h0M561.7 300.4h0M561.7 524.3h0M562.9 308.7h0M563.0 179.8h0M563.5 524.3h0M563.6 58.8h0M564.0 527.9h0M564.3 525.5h0M564.6 35.6h0M564.6 81.8h0M564.7 201.4h0M565.0 45.3h0M565.3 178.8h0M566.0 251.4h0M566.4 527.3h0M566.7 27.4h0M566.7 38.7h0M567.1 528.5h0M567.2 181.7h0M567.4 201.4h0M568.1 271.3h0M568.4 529.0h0M568.7 152.0h0M568.9 35.6h0M569.4 529.8h0M569.6 201.4h0M569.7 197.1h0M569.9 179.0h0M570.0 491.0h0M570.4 530.8h0M570.6 35.6h0M571.2 259.4h0M571.2 201.4h0M571.7 531.3h0M571.9 533.0h0M572.4 485.1h0M572.4 151.6h0M572.5 181.7h0M572.8 452.7h0M572.8 534.0h0M573.0 22.7h0M573.6 535.1h0M573.9 27.4h0M574.2 260.8h0M574.4 181.8h0M574.4 23.6h0M574.7 485.1h0M575.2 538.0h0M575.3 27.4h0M575.4 491.5h0M575.5 535.0h0M575.8 539.8h0M575.9 536.6h0M575.9 213.7h0M576.7 541.0h0M576.8 27.4h0M576.9 149.9h0M577.6 488.0h0M578.0 59.2h0M578.3 27.4h0M578.5 540.3h0M578.8 60.6h0M579.6 61.9h0M579.7 540.8h0M579.8 27.4h0M580.0 120.4h0M580.5 63.3h0M580.5 542.1h0M581.0 125.9h0M581.3 64.6h0M581.3 27.4h0M582.0 545.1h0M582.0 542.0h0M582.1 66.0h0M582.8 27.4h0M583.0 67.3h0M583.1 125.9h0M583.7 306.3h0M583.8 68.7h0M584.1 131.1h0M584.3 27.4h0M584.4 543.0h0M584.6 70.0h0M585.0 132.5h0M585.4 543.6h0M585.5 71.4h0M585.8 27.4h0M585.8 133.9h0M586.1 298.7h0M586.3 72.7h0M586.4 545.7h0M586.7 135.3h0M587.1 74.1h0M587.3 27.4h0M587.5 136.7h0M588.0 75.4h0M588.1 545.6h0M588.3 138.1h0M588.8 27.4h0M588.8 76.7h0M589.2 139.5h0M589.6 78.1h0M589.8 545.1h0M590.0 140.9h0M590.3 27.4h0M590.5 79.4h0M590.5 546.3h0M590.9 142.3h0M591.3 80.8h0M591.3 241.2h0M592.0 547.1h0M592.5 548.5h0M593.5 549.5h0M594.7 552.1h0M594.9 550.3h0M595.1 24.1h0M595.3 553.6h0M596.0 240.0h0M596.4 214.1h0M597.1 553.7h0M597.2 486.8h0M597.2 491.0h0M598.0 554.6h0M598.2 556.2h0M598.4 419.5h0M599.1 44.5h0M599.1 126.3h0M599.1 128.6h0M599.4 556.9h0M599.5 35.0h0M599.9 162.2h0M600.1 22.9h0M600.2 558.0h0M600.3 488.7h0M600.9 213.1h0M601.0 21.5h0M601.6 24.4h0M601.6 197.1h0M601.9 558.1h0M602.0 20.1h0M602.5 22.6h0M602.6 150.1h0M602.6 152.2h0M602.6 201.8h0M602.9 18.7h0M603.0 178.2h0M603.0 558.8h0M603.5 560.2h0M603.6 327.6h0M603.8 17.3h0M604.8 15.9h0M605.0 400.6h0M606.1 36.3h0M606.7 53.5h0M607.7 50.0h0M608.7 85.9h0M609.8 142.3h0M610.2 146.4h0M611.2 167.0h0M611.8 562.0h0M612.1 253.0h0M613.5 197.7h0M614.3 212.7h0M615.0 250.7h0M615.7 270.3h0M616.2 275.5h0M616.9 308.0h0M617.8 477.5h0M618.5 325.3h0M618.5 311.0h0M619.1 312.5h0M619.7 313.9h0M620.3 315.4h0M621.0 316.8h0M621.6 318.3h0M622.2 319.7h0M622.8 321.2h0M623.4 322.6h0M624.0 324.1h0M624.5 330.0h0M625.6 364.3h0M626.8 369.1h0M628.5 373.8h0M629.7 380.9h0M631.0 562.5h0M631.1 388.7h0M632.5 396.3h0M633.9 402.2h0M635.1 409.3h0M636.8 425.9h0M638.2 430.2h0M639.0 563.2h0M640.1 447.2h0M641.7 454.3h0M642.9 468.1h0M643.4 463.1h0M644.6 471.6h0M645.8 486.3h0M646.2 492.7h0M647.2 513.5h0M647.9 525.8h0M648.6 530.8h0M649.3 534.8h0M676.4 35.6h0M687.7 410.5h0M690.8 399.9h0M721.6 531.7h0M726.1 431.5h0M743.1 19.8h0M743.1 44.9h0M743.1 177.2h0M743.1 181.3h0M743.5 118.7h0M744.5 44.9h0M744.6 195.7h0M744.6 177.2h0M744.6 181.3h0M745.2 220.3h0M745.8 221.8h0M745.9 44.9h0M746.0 177.2h0M746.0 181.3h0M746.4 223.2h0M747.0 224.7h0M747.4 44.9h0M747.5 177.2h0M747.5 181.3h0M747.6 226.1h0M748.2 227.6h0M748.8 44.9h0M748.8 229.0h0M749.0 177.2h0M749.0 181.3h0M749.4 230.5h0M750.0 231.9h0M750.2 44.9h0M750.4 177.2h0M750.4 181.3h0M750.6 233.4h0M750.7 23.8h0M751.2 234.8h0M751.6 44.9h0M751.8 236.3h0M751.9 177.2h0M751.9 181.3h0M752.4 237.7h0M753.0 44.9h0M753.4 26.4h0M753.4 28.9h0M753.4 117.7h0M753.4 126.3h0M753.4 128.6h0M753.4 177.2h0M753.4 181.3h0M753.5 326.8h0M754.0 491.4h0M754.4 44.9h0M755.4 326.8h0M755.7 487.4h0M756.0 151.6h0M756.5 664.3h0M757.5 178.2h0M757.9 201.4h0M758.7 328.0h0M760.4 351.7h0M760.4 362.4h0M760.4 378.9h0M760.4 380.1h0M760.6 408.1h0M761.6 303.2h0M761.9 362.4h0M761.9 378.9h0M761.9 380.1h0M762.0 39.7h0M762.8 560.6h0M763.0 197.1h0M763.4 362.4h0M763.4 378.9h0M763.4 380.1h0M763.5 396.7h0M764.8 362.4h0M764.8 378.9h0M764.8 380.1h0M765.1 489.8h0M766.3 362.4h0M766.3 378.9h0M766.3 380.1h0M766.6 178.8h0M766.7 201.4h0M766.9 151.6h0M767.0 564.8h0M768.4 201.4h0M768.6 151.6h0" fill="none" stroke-width="4.80" stroke-linecap="round"/>
<path d="M518.4 23.9h0M525.0 23.9h0M532.4 23.1h0M551.6 23.7h0M566.3 23.5h0M567.1 24.5h0M568.5 24.0h0M571.5 23.8h0M575.2 22.9h0M575.9 22.6h0M582.6 23.8h0M587.7 23.2h0M589.2 23.4h0M591.4 24.5h0M749.2 23.4h0" fill="none" stroke-width="5.20" stroke-linecap="round"/>
<path d="M483.0 20.2h0M483.7 19.5h0M491.9 20.4h0M493.3 21.0h0M494.1 18.9h0M497.0 19.7h0M497.0 23.6h0M498.5 22.1h0M499.2 19.1h0M502.9 19.6h0M503.7 20.0h0M507.3 19.4h0M508.8 19.1h0M509.6 22.8h0M519.1 20.3h0M519.9 20.3h0M524.3 23.2h0M529.5 20.4h0M530.2 328.8h0M530.2 20.0h0M532.4 21.6h0M536.8 19.1h0M537.6 20.5h0M541.3 19.4h0M542.7 20.9h0M543.5 20.3h0M544.2 20.3h0M544.2 24.2h0M545.0 20.1h0M545.7 20.8h0M546.4 19.9h0M550.1 21.1h0M552.3 20.9h0M558.2 20.0h0M559.7 19.4h0M566.3 20.1h0M568.5 19.9h0M569.3 21.0h0M570.8 20.4h0M574.4 19.6h0M575.2 20.0h0M575.9 20.2h0M578.1 21.0h0M581.1 19.6h0M581.8 19.0h0M584.8 20.5h0M586.2 19.8h0M587.0 24.3h0M587.7 20.4h0M588.5 21.6h0M589.2 21.4h0M590.7 21.9h0M591.4 19.8h0M594.4 21.4h0M594.4 24.0h0M595.1 20.4h0M597.3 18.9h0M598.8 19.8h0M598.8 24.4h0M600.3 20.3h0M604.7 23.2h0M742.6 20.6h0M743.3 21.1h0M744.8 20.9h0M745.5 20.1h0M746.3 20.7h0M749.2 19.1h0M752.2 20.3h0M752.9 24.4h0M754.4 20.5h0M759.5 20.5h0M764.7 19.4h0M765.4 23.2h0M766.2 19.8h0" fill="none" stroke-width="5.60" stroke-linecap="round"/>
<path d="M481.5 18.6h0M489.6 19.6h0M490.4 19.4h0M491.1 19.4h0M492.6 20.8h0M494.8 19.7h0M495.5 20.6h0M497.8 19.5h0M500.0 19.9h0M505.1 20.1h0M509.6 20.0h0M518.4 20.5h0M521.4 20.1h0M525.0 20.2h0M525.8 19.5h0M527.3 19.5h0M528.7 21.6h0M531.7 20.7h0M533.2 20.8h0M533.9 20.1h0M538.3 21.9h0M540.5 19.5h0M550.9 19.2h0M553.8 20.5h0M554.5 19.0h0M556.0 20.4h0M559.0 20.2h0M560.4 20.5h0M561.9 20.2h0M565.6 18.3h0M571.5 19.9h0M573.0 19.3h0M573.7 20.3h0M576.7 19.8h0M577.4 19.5h0M583.3 20.9h0M585.5 19.0h0M587.0 19.3h0M592.1 20.4h0M593.6 20.7h0M595.8 19.2h0M596.6 20.2h0M598.0 20.2h0M601.7 19.9h0M747.7 20.9h0M748.5 19.6h0M749.9 20.0h0M750.7 20.3h0M754.9 326.4h0M756.6 19.5h0M758.1 20.5h0M762.5 18.4h0M764.0 20.2h0M767.6 19.8h0M768.4 19.5h0" fill="none" stroke-width="6.00" stroke-linecap="round"/>
<path d="M482.3 19.2h0M500.7 20.2h0M501.4 19.1h0M502.2 19.1h0M504.4 20.3h0M514.7 19.4h0M517.7 19.6h0M521.4 263.7h0M530.9 21.0h0M534.6 19.7h0M536.1 20.0h0M556.8 20.2h0M557.5 19.9h0M570.0 19.5h0M579.6 20.6h0M582.6 18.7h0M599.5 19.7h0M603.2 19.7h0M604.7 20.5h0M605.4 20.8h0M744.0 20.4h0M747.0 19.3h0M753.6 22.3h0M755.1 20.7h0M755.8 19.8h0M760.6 35.0h0" fill="none" stroke-width="6.40" stroke-linecap="round"/>
<circle cx="768.8" cy="669.8" r="4" fill="#86a548" stroke="none"/>
<circle cx="768.8" cy="676.6" r="4.5" fill="#a8a81c" stroke="none"/>
<path d="M768.9 176.2h0M768.9 564.8h0" fill="none" stroke-width="4.80" stroke-linecap="round"/>
<path d="M769.1 20.8h0" fill="none" stroke-width="6.00" stroke-linecap="round"/>
<path d="M769.4 245.5h0" fill="none" stroke-width="6.80" stroke-linecap="round"/>
<circle cx="769.4" cy="431.0" r="3.5" fill="#8fa635" stroke="none"/>
<circle cx="769.8" cy="19.2" r="3.5" fill="#86a548" stroke="none"/>
<path d="M770.8 201.4h0M770.8 173.5h0M771.0 177.1h0M771.8 162.2h0M772.4 669.1h0M772.5 180.1h0M773.8 201.4h0M773.9 185.8h0M774.1 379.4h0M775.0 178.5h0M775.3 499.2h0M775.3 143.4h0M775.9 680.9h0M776.5 24.1h0M777.0 351.7h0M777.2 201.4h0M777.6 35.6h0M777.7 566.5h0M777.9 305.1h0" fill="none" stroke-width="4.80" stroke-linecap="round"/>
<path d="M769.9 19.7h0M770.6 20.6h0M771.3 19.7h0M775.8 20.7h0M776.5 20.5h0M777.2 20.0h0" fill="none" stroke-width="6.00" stroke-linecap="round"/>
<circle cx="778.0" cy="21.3" r="3.5" fill="#a8a81c" stroke="none"/>
<path d="M778.2 151.6h0M778.3 178.9h0" fill="none" stroke-width="4.80" stroke-linecap="round"/>
<path d="M778.9 304.6h0" fill="none" stroke-width="5.60" stroke-linecap="round"/>
<path d="M778.7 21.6h0" fill="none" stroke-width="6.40" stroke-linecap="round"/>
<circle cx="779.0" cy="162.2" r="5" fill="#86a548" stroke="none"/>
<path d="M779.2 201.4h0M779.8 305.1h0M779.8 178.7h0M779.8 151.6h0M780.0 281.8h0M780.3 347.0h0M780.3 378.5h0M781.4 201.4h0M781.9 281.8h0M782.2 347.0h0M782.2 378.5h0M782.2 408.1h0M782.5 180.1h0M783.1 27.4h0M783.6 517.0h0M783.7 201.4h0M783.9 179.0h0M784.2 664.3h0M785.2 213.7h0M785.5 517.0h0M786.0 567.2h0M786.4 177.5h0M786.6 684.5h0M786.8 151.6h0M787.2 351.7h0M787.2 201.4h0M787.4 35.6h0M787.6 303.9h0M787.6 306.2h0M787.7 667.9h0M787.9 567.2h0M789.1 35.6h0M789.3 281.8h0" fill="none" stroke-width="4.80" stroke-linecap="round"/>
<path d="M781.7 20.1h0M783.1 21.0h0M783.9 20.4h0M786.8 19.9h0M787.7 667.9h0" fill="none" stroke-width="5.60" stroke-linecap="round"/>
<path d="M780.2 21.4h0M782.4 21.7h0M785.3 21.4h0M787.6 20.1h0M788.3 19.9h0" fill="none" stroke-width="6.00" stroke-linecap="round"/>
<path d="M779.4 20.3h0M786.1 20.5h0M789.0 20.5h0" fill="none" stroke-width="6.40" stroke-linecap="round"/>
<circle cx="790.3" cy="19.8" r="3.5" fill="#86a548" stroke="none"/>
<path d="M790.3 159.8h0M791.3 44.9h0M791.3 252.1h0M791.7 84.9h0M791.9 208.6h0M792.4 259.3h0M792.8 180.3h0M792.9 44.9h0M793.1 322.6h0M793.4 125.3h0M793.5 291.8h0M794.2 126.7h0M794.4 219.3h0M794.4 44.9h0M794.5 293.0h0M795.0 128.0h0M795.1 220.7h0M795.4 294.2h0M795.7 222.1h0M795.8 129.4h0M795.9 44.9h0M796.3 295.3h0M796.4 223.5h0M796.7 130.7h0M797.1 225.0h0M797.2 296.5h0M797.5 44.9h0M797.5 132.1h0M797.7 226.4h0M798.1 297.7h0M798.4 227.8h0M799.0 298.9h0M799.0 44.9h0M799.1 229.2h0M799.7 230.6h0M800.4 232.1h0M800.6 44.9h0M801.0 233.5h0M801.6 23.3h0M801.7 234.9h0M801.8 328.0h0M802.1 44.9h0M802.4 236.3h0M803.0 237.7h0M803.3 328.0h0M803.6 44.9h0M804.7 27.4h0M804.7 328.0h0M804.9 408.1h0M806.1 328.0h0M807.1 185.4h0M807.1 187.5h0M807.5 328.0h0M808.8 151.6h0M808.9 328.0h0M810.0 173.5h0M810.0 666.7h0M810.1 287.8h0M810.8 27.4h0M811.6 173.5h0M811.9 666.7h0M812.9 44.5h0M812.9 88.0h0M812.9 118.1h0M813.0 541.2h0M813.7 568.9h0M814.3 570.1h0M814.9 454.3h0M814.9 35.6h0M815.3 568.9h0M815.4 201.4h0M816.0 334.7h0M816.0 387.2h0M816.3 454.3h0M816.5 178.7h0M816.8 568.9h0M817.2 466.6h0M817.8 454.3h0M818.0 213.7h0M818.4 568.9h0M818.6 180.2h0M819.0 693.2h0M819.2 569.6h0M819.3 454.3h0M819.9 201.4h0M820.0 568.9h0M820.8 454.3h0M820.9 702.9h0" fill="none" stroke-width="4.80" stroke-linecap="round"/>
<path d="M799.4 22.5h0M817.8 23.0h0M819.3 23.1h0" fill="none" stroke-width="5.20" stroke-linecap="round"/>
<path d="M792.0 20.5h0M792.7 19.9h0M794.2 20.3h0M797.9 20.1h0M798.6 19.2h0M800.1 20.2h0M801.6 20.6h0M803.0 20.1h0M808.2 18.8h0M810.4 18.9h0M814.1 19.1h0M820.0 21.2h0" fill="none" stroke-width="5.60" stroke-linecap="round"/>
<path d="M790.5 19.7h0M794.9 19.0h0M797.1 20.4h0M800.8 19.1h0M803.8 20.3h0M805.3 21.5h0M806.0 19.6h0M806.7 21.0h0M807.5 21.6h0M808.9 19.6h0M812.6 19.3h0M813.4 19.7h0M814.8 19.2h0M817.1 19.6h0M817.8 20.7h0M819.3 19.8h0M820.7 18.7h0" fill="none" stroke-width="6.00" stroke-linecap="round"/>
<path d="M796.4 20.5h0M802.3 19.7h0M806.1 347.7h0M809.7 19.3h0M811.2 20.6h0M811.9 18.8h0" fill="none" stroke-width="6.40" stroke-linecap="round"/>
<circle cx="821.1" cy="35.6" r="3.8" fill="#86a548" stroke="none"/>
<path d="M821.1 569.6h0M821.3 151.6h0M821.6 568.9h0M821.9 178.3h0M822.0 287.8h0M822.1 213.7h0M822.4 201.4h0M822.7 491.4h0M822.9 151.6h0M823.1 251.7h0M823.1 568.9h0M823.9 178.7h0M824.1 304.3h0M824.2 27.4h0M824.5 201.4h0M824.8 351.7h0M826.0 304.3h0M826.2 179.8h0M826.3 573.2h0M828.6 305.5h0M828.7 178.8h0M829.2 666.7h0M829.3 162.2h0M829.3 258.3h0M829.5 287.8h0M829.6 23.8h0M830.3 27.4h0M831.3 181.3h0M831.7 352.4h0M832.1 517.0h0M832.3 690.4h0M833.1 305.5h0M833.1 462.5h0M834.3 201.4h0M834.3 274.3h0M834.3 180.9h0M834.8 261.3h0M834.8 264.0h0M835.1 574.3h0M835.1 589.3h0M835.2 408.1h0M835.4 35.6h0M835.4 159.4h0M836.5 151.6h0M836.8 693.2h0M837.6 201.4h0M838.1 467.0h0M839.5 35.6h0M839.6 201.4h0M840.0 467.0h0M840.6 574.8h0M840.7 258.3h0M840.8 162.2h0M841.0 213.7h0M841.2 173.5h0M841.7 688.0h0M842.2 693.2h0M842.4 162.2h0M842.7 177.0h0M843.1 201.4h0M843.7 180.5h0M844.0 258.3h0M844.9 151.6h0M845.2 201.4h0M845.4 176.4h0M846.0 178.0h0M846.1 35.6h0M846.5 576.2h0M846.5 258.3h0M846.5 151.6h0M847.2 201.4h0M847.4 176.9h0M847.7 699.1h0M847.8 27.4h0M847.8 162.2h0M848.3 353.4h0M848.8 179.1h0M849.3 27.4h0M849.4 35.6h0M850.6 305.5h0M850.8 27.4h0M851.0 680.2h0M851.0 180.2h0M851.2 258.3h0M851.7 179.3h0M852.3 35.6h0M852.4 27.4h0M852.7 258.3h0M852.8 277.6h0M853.7 176.5h0M853.9 27.4h0M853.9 178.6h0M854.1 162.2h0M854.4 35.6h0M854.8 695.8h0M855.4 178.6h0M855.4 180.6h0M855.4 27.4h0M855.7 35.6h0M855.8 162.2h0M856.0 201.4h0M856.1 180.5h0M856.4 576.2h0M856.9 178.6h0M857.0 27.4h0M857.3 152.4h0M857.4 201.4h0M857.7 178.2h0M857.8 577.0h0M858.2 489.8h0M858.3 24.2h0M858.4 178.6h0M858.8 691.6h0M858.9 201.4h0M859.0 151.5h0M859.0 45.3h0M859.0 84.9h0M859.1 577.7h0M859.4 371.8h0M859.8 179.9h0M859.8 22.7h0M859.9 178.6h0M860.0 152.4h0M860.3 177.9h0M860.4 201.4h0M860.5 578.5h0M861.0 284.2h0M861.4 178.6h0M861.8 579.2h0M861.9 201.4h0M862.1 177.4h0M862.1 152.5h0M862.5 385.3h0M862.5 45.3h0M862.5 84.9h0M862.9 178.6h0M863.2 177.3h0M863.2 580.0h0M863.4 201.4h0M864.4 385.3h0M864.4 178.6h0M864.5 580.7h0M864.6 35.6h0M864.8 201.4h0M864.9 696.8h0M865.0 151.3h0M865.2 175.8h0M865.8 325.7h0M865.8 328.3h0M865.9 581.4h0M865.9 178.6h0M866.0 152.9h0M866.3 201.4h0M866.4 177.9h0M866.7 557.5h0M867.3 177.4h0M867.5 178.6h0M867.6 713.1h0M867.7 305.5h0M867.8 201.4h0M868.3 24.4h0M868.4 489.8h0M868.4 150.6h0M868.9 408.1h0M869.0 178.6h0M869.3 201.4h0M869.4 178.3h0M869.4 150.5h0M870.2 180.7h0M870.3 489.8h0M870.5 178.6h0M870.6 580.3h0M870.8 201.4h0M871.7 326.8h0M871.7 354.1h0M872.0 178.6h0M872.0 581.0h0M872.3 201.4h0M872.4 180.6h0M872.5 152.5h0M872.8 258.3h0M873.1 177.1h0M873.2 152.5h0M873.3 581.7h0M873.5 178.6h0M873.7 201.4h0M874.4 179.6h0M874.4 162.2h0M874.7 582.4h0M875.0 178.6h0M875.2 201.4h0M875.7 326.8h0M875.8 696.8h0M876.0 583.1h0M876.1 176.4h0M876.4 152.0h0M876.4 320.9h0M876.5 178.6h0M876.7 201.4h0M877.3 151.7h0M877.4 583.8h0M877.5 35.6h0M877.7 180.3h0M877.9 393.9h0M878.0 178.6h0M878.2 201.4h0M878.7 584.5h0M878.9 150.1h0M879.3 537.6h0M879.4 715.3h0M879.5 178.6h0M879.6 177.0h0M879.7 201.4h0M880.0 369.5h0M880.1 585.2h0M880.2 180.3h0M881.0 178.6h0M881.1 201.4h0M881.4 585.9h0M882.0 152.0h0M882.1 179.2h0M882.5 178.6h0M882.6 201.4h0M882.8 586.7h0M883.0 176.0h0M883.2 152.9h0M884.0 178.6h0M884.1 201.4h0M884.1 587.4h0M884.4 577.4h0M884.7 35.6h0M885.0 152.7h0M885.1 177.9h0M885.4 290.1h0M885.5 178.6h0M885.6 201.4h0M885.8 180.4h0M886.7 26.4h0M886.9 274.3h0M887.0 178.6h0M887.1 201.4h0M887.5 150.7h0M887.6 284.9h0M887.8 162.2h0M887.9 179.7h0M888.5 150.9h0M888.5 554.7h0M888.5 178.6h0M888.5 201.4h0M888.7 180.0h0M888.8 274.3h0M888.8 258.3h0M890.0 159.8h0M890.0 201.8h0M890.0 178.6h0M890.0 201.4h0M890.2 387.2h0M890.4 554.7h0M890.6 271.9h0M891.0 692.3h0M891.2 179.8h0M891.7 387.2h0M892.2 181.3h0M892.5 347.0h0M892.5 349.3h0M892.9 692.3h0M893.1 27.4h0M893.1 387.2h0M893.5 408.1h0M894.6 387.2h0M894.7 428.0h0M895.0 696.3h0M895.4 558.2h0M895.8 179.7h0M896.1 387.2h0M896.6 326.8h0M897.0 517.5h0M897.2 27.4h0M897.4 689.2h0M897.4 23.4h0M897.7 181.1h0M897.8 274.3h0M898.3 200.4h0M898.6 587.4h0M898.9 178.8h0M899.1 725.4h0M900.0 199.5h0M900.0 714.5h0M900.0 725.6h0M900.4 351.7h0M900.5 151.6h0M900.8 308.4h0M901.6 181.3h0M901.8 508.5h0M902.1 151.6h0M902.2 351.7h0M902.4 587.8h0M902.5 202.4h0" fill="none" stroke-width="4.80" stroke-linecap="round"/>
<path d="M840.6 22.9h0M878.3 23.6h0M880.5 23.8h0M893.7 24.4h0M894.5 23.7h0" fill="none" stroke-width="5.20" stroke-linecap="round"/>
<path d="M824.4 21.1h0M825.9 21.6h0M827.4 20.2h0M828.9 21.2h0M829.6 20.2h0M831.1 19.3h0M831.8 19.7h0M841.4 20.7h0M842.9 19.2h0M846.5 20.4h0M851.7 19.9h0M864.2 20.8h0M865.0 20.4h0M865.7 19.2h0M870.1 20.0h0M873.1 20.0h0M873.8 19.3h0M876.0 23.2h0M879.7 19.4h0M881.2 20.9h0M883.4 20.6h0M884.2 20.9h0M884.9 20.3h0M885.6 20.4h0M886.4 19.8h0M887.1 19.4h0M888.6 19.5h0M890.1 20.4h0M894.5 20.8h0M898.9 18.4h0M900.4 20.7h0M901.1 19.6h0M901.9 19.4h0M903.3 19.0h0" fill="none" stroke-width="5.60" stroke-linecap="round"/>
<path d="M822.2 19.8h0M823.0 19.4h0M825.0 303.9h0M830.3 19.8h0M832.5 21.1h0M834.0 20.9h0M834.8 19.2h0M837.0 20.0h0M838.7 705.3h0M839.2 20.3h0M840.6 19.6h0M845.1 20.9h0M847.3 19.3h0M849.5 20.1h0M851.0 20.1h0M857.6 19.1h0M858.3 20.0h0M859.1 20.6h0M866.5 22.1h0M867.9 19.6h0M868.7 20.3h0M871.6 19.1h0M872.4 19.7h0M874.6 18.7h0M875.3 20.0h0M876.0 19.6h0M876.8 19.2h0M877.5 20.2h0M881.9 18.5h0M893.7 20.2h0M895.2 20.1h0M897.4 19.7h0M897.9 715.3h0M899.6 19.6h0" fill="none" stroke-width="6.00" stroke-linecap="round"/>
<path d="M821.5 19.9h0M823.7 20.1h0M839.9 19.9h0M842.1 20.0h0M843.6 20.0h0M845.8 19.8h0M848.0 21.0h0M852.4 20.5h0M853.2 19.3h0M855.4 19.1h0M859.8 19.1h0M867.2 19.8h0M870.0 347.7h0M870.9 19.6h0M878.3 20.9h0M882.7 21.0h0M890.8 20.3h0M896.7 20.2h0M902.6 20.1h0" fill="none" stroke-width="6.40" stroke-linecap="round"/>
<circle cx="903.3" cy="21.3" r="3.3" fill="#86a548" stroke="none"/>
<path d="M904.3 181.3h0M904.7 745.7h0M905.3 274.3h0M905.3 277.6h0M905.5 199.7h0M906.0 35.6h0M906.1 181.8h0M906.6 720.4h0M907.6 707.8h0M908.3 589.4h0M908.4 180.2h0M908.8 202.8h0M909.6 458.3h0M909.8 174.9h0M910.1 80.4h0M910.5 188.5h0M911.3 189.9h0M911.5 545.9h0M911.8 177.5h0M912.0 191.2h0M912.2 23.5h0M912.2 547.3h0M912.8 192.6h0M913.0 548.7h0M913.5 194.0h0M913.7 550.0h0M913.9 181.3h0M914.3 195.3h0M914.5 551.4h0M915.0 196.7h0M915.2 552.8h0M915.9 22.4h0M916.0 554.2h0M916.8 179.7h0M916.9 300.3h0M916.9 500.9h0M917.1 145.4h0M917.7 168.0h0M917.7 170.0h0M918.8 300.3h0M919.1 180.1h0M919.3 35.6h0M919.4 590.8h0M919.4 654.1h0M919.7 45.3h0M919.7 201.4h0M919.7 221.9h0M919.7 234.7h0M920.1 696.7h0M920.6 671.8h0M920.6 689.6h0M921.0 174.7h0M921.2 201.4h0M922.6 556.1h0M922.6 201.4h0M922.9 290.6h0M923.7 180.6h0M924.1 201.4h0M924.7 290.6h0M925.3 178.9h0M925.3 719.7h0M925.5 201.4h0M925.7 500.9h0M925.7 517.0h0M926.9 201.4h0M927.4 334.7h0M927.8 175.2h0M928.1 287.8h0M928.4 201.4h0M929.6 666.6h0M929.6 678.9h0M929.8 201.4h0M930.0 176.7h0M930.2 151.6h0M930.3 674.2h0M930.8 592.0h0M931.1 176.8h0M931.1 517.0h0M931.2 201.4h0M931.6 387.2h0M931.9 151.6h0M932.7 201.4h0M933.1 156.1h0M933.3 318.5h0M934.1 201.4h0M934.7 318.5h0M935.5 593.2h0M936.0 318.5h0M936.2 35.6h0M937.4 318.5h0M938.4 151.6h0M938.8 318.5h0M939.5 177.1h0M939.8 593.0h0M940.1 151.6h0M940.2 318.5h0M940.2 201.4h0M940.4 515.6h0M940.9 35.6h0" fill="none" stroke-width="4.80" stroke-linecap="round"/>
<path d="M905.5 20.6h0M905.5 24.1h0M907.8 19.5h0M908.5 20.1h0M909.2 20.1h0M912.9 20.3h0M915.9 20.3h0M925.5 22.3h0M929.9 20.8h0M931.3 19.8h0M932.8 19.7h0M935.8 20.4h0M936.5 19.0h0M937.2 20.3h0M938.7 20.1h0" fill="none" stroke-width="5.60" stroke-linecap="round"/>
<path d="M906.3 20.3h0M907.0 20.3h0M910.0 20.4h0M914.4 18.7h0M915.1 20.2h0M916.6 18.6h0M922.5 19.3h0M924.0 19.8h0M924.7 20.6h0M926.2 19.7h0M926.9 21.4h0M928.4 20.5h0M930.6 20.0h0M933.6 20.1h0M935.0 19.9h0M939.5 19.6h0M940.2 20.3h0M940.9 19.7h0" fill="none" stroke-width="6.00" stroke-linecap="round"/>
<path d="M904.1 19.6h0M910.7 19.4h0M917.3 20.1h0M923.2 19.2h0M925.5 19.4h0M932.1 20.0h0M934.3 19.9h0M938.0 20.4h0" fill="none" stroke-width="6.40" stroke-linecap="round"/>
<path d="M918.1 393.9h0" fill="none" stroke-width="7.20" stroke-linecap="round"/>
<circle cx="941.3" cy="24.4" r="3.6" fill="#a8a81c" stroke="none"/>
<path d="M941.3 411.4h0" fill="none" stroke-width="4.80" stroke-linecap="round"/>
<circle cx="941.4" cy="774.9" r="3.5" fill="#7ea45a" stroke="none"/>
<path d="M941.6 318.5h0M941.7 180.1h0M942.4 201.4h0M942.7 302.4h0M942.7 351.2h0M943.3 683.7h0M943.4 177.8h0M943.9 503.7h0M944.4 511.6h0M944.9 370.2h0M945.0 710.2h0M945.5 201.4h0M945.6 179.0h0M946.8 370.2h0M947.4 27.4h0M948.0 201.4h0M948.3 178.7h0M948.5 45.3h0M948.7 306.7h0M949.3 773.7h0M949.5 162.2h0M949.7 35.6h0M950.2 176.5h0M950.3 277.6h0M950.3 284.9h0M951.0 408.1h0M951.3 35.6h0M951.4 201.4h0M951.5 378.5h0M951.6 244.9h0M951.6 177.3h0M952.6 594.4h0M953.6 45.3h0M953.6 226.9h0M953.6 229.1h0M954.6 201.4h0M954.6 132.7h0M954.6 240.4h0M954.8 177.5h0M955.7 27.4h0M956.1 257.2h0M956.5 495.0h0M956.7 214.1h0M956.7 247.0h0M957.7 378.5h0M957.7 489.8h0M958.7 158.1h0M959.8 162.2h0M959.8 258.7h0M959.8 283.5h0M960.4 780.8h0M961.8 233.6h0M962.8 237.3h0M963.0 178.2h0M963.0 201.4h0M963.4 543.5h0M964.7 178.2h0M964.7 201.4h0M964.9 35.6h0M964.9 86.3h0M964.9 162.2h0M965.5 151.6h0M965.8 594.9h0M967.9 304.8h0M968.3 284.9h0M968.7 744.3h0M969.0 35.6h0M970.6 596.5h0M972.1 42.4h0M972.8 201.4h0M972.8 271.9h0M972.9 781.5h0M973.2 178.2h0M973.3 254.6h0M974.0 284.9h0M974.1 35.6h0M974.6 178.2h0M974.9 254.6h0M975.0 201.4h0M975.3 597.9h0M975.8 125.5h0M975.8 232.6h0M976.2 44.9h0M976.7 201.4h0M977.8 516.8h0M977.8 519.1h0M978.2 27.4h0M978.3 178.2h0M980.3 84.3h0M980.6 201.4h0M980.7 231.6h0M980.8 178.2h0M981.0 672.5h0M981.2 598.9h0M981.3 45.3h0M981.3 151.6h0M981.7 123.5h0M982.0 201.4h0M982.7 230.6h0M982.9 178.2h0M983.4 133.5h0M984.1 680.1h0M984.4 27.4h0M984.4 218.7h0M984.4 494.3h0M985.4 37.7h0M985.4 45.3h0M986.1 312.6h0M986.3 494.3h0M986.8 27.4h0M986.8 242.3h0M987.5 102.3h0M987.5 104.4h0M987.5 117.7h0M987.9 128.4h0M988.5 418.5h0M988.5 44.9h0M988.5 180.3h0M988.5 263.4h0M989.5 151.6h0M989.9 176.6h0M990.1 213.1h0M990.5 201.4h0M990.7 665.2h0M990.7 679.4h0M992.2 35.6h0M993.6 196.7h0M993.7 351.7h0M994.4 334.7h0M994.7 702.9h0M995.1 368.8h0M995.1 377.0h0M995.1 429.4h0M995.3 284.2h0M996.4 669.5h0M996.7 151.6h0M996.7 177.8h0M996.7 201.4h0M996.9 213.7h0M997.5 562.0h0M998.4 537.6h0M998.5 24.2h0M998.5 213.7h0M998.9 408.1h0M999.8 320.9h0M1000.4 162.2h0M1000.8 151.6h0M1000.8 178.2h0M1001.2 35.6h0M1001.2 201.4h0M1001.4 601.0h0M1001.7 320.9h0M1001.8 215.2h0M1002.3 715.2h0M1002.3 737.4h0M1002.7 216.5h0M1003.0 696.7h0M1003.4 466.8h0M1003.6 217.7h0M1003.8 292.0h0M1003.9 55.1h0M1003.9 57.2h0M1004.4 696.7h0M1004.5 219.0h0M1004.9 181.3h0M1005.0 293.3h0M1005.4 654.1h0M1005.4 220.3h0M1005.8 696.7h0M1006.2 294.6h0M1006.3 221.6h0M1006.9 654.1h0M1007.2 696.7h0M1007.2 222.9h0M1007.4 295.9h0M1007.8 656.9h0M1008.1 224.1h0M1008.3 654.1h0M1008.5 813.2h0M1008.5 696.7h0M1008.6 297.1h0M1008.9 747.1h0M1009.0 225.4h0M1009.3 656.9h0M1009.8 298.4h0M1009.8 654.1h0M1009.9 696.7h0M1010.0 181.3h0M1010.5 747.1h0M1010.7 656.9h0M1011.3 654.1h0M1011.3 696.7h0M1012.0 747.1h0M1012.2 656.9h0M1012.8 654.1h0M1013.0 813.2h0M1013.5 747.1h0M1013.7 656.9h0M1014.3 654.1h0M1015.0 747.1h0M1015.2 181.3h0M1015.2 656.9h0M1015.7 654.1h0M1016.6 747.1h0M1016.7 656.9h0M1017.2 654.1h0M1018.1 747.1h0M1018.2 656.9h0M1018.3 813.2h0M1018.4 696.7h0M1018.7 654.1h0M1019.6 747.1h0M1019.7 656.9h0M1019.8 696.7h0M1020.2 654.1h0M1020.3 181.3h0M1021.2 696.7h0M1021.2 656.9h0M1021.3 22.5h0M1021.7 654.1h0M1022.5 813.2h0M1022.6 696.7h0M1022.7 656.9h0M1022.8 23.1h0M1023.1 654.1h0M1023.9 696.7h0M1024.2 656.9h0M1024.6 654.1h0M1025.3 696.7h0M1025.4 181.3h0M1025.7 656.9h0M1026.0 747.1h0M1026.1 654.1h0M1026.2 813.2h0M1026.7 696.7h0M1027.2 656.9h0M1027.5 747.1h0M1027.6 654.1h0M1028.7 656.9h0M1029.0 747.1h0M1029.1 654.1h0M1030.2 656.9h0M1030.5 747.1h0M1030.5 181.3h0M1030.6 654.1h0M1031.1 813.2h0M1031.7 656.9h0M1031.9 747.1h0M1032.0 654.1h0M1033.2 656.9h0M1033.4 747.1h0M1033.5 654.1h0M1034.7 656.9h0M1034.9 747.1h0M1035.0 654.1h0M1036.2 656.9h0M1036.4 747.1h0M1036.5 391.3h0M1036.5 399.5h0M1036.9 201.4h0M1037.7 35.6h0M1037.9 151.6h0M1037.9 177.8h0M1038.4 391.3h0M1038.4 399.5h0M1038.5 201.4h0M1039.6 151.6h0M1039.6 177.8h0M1039.9 214.6h0M1040.3 604.1h0M1040.9 769.9h0M1041.0 286.1h0M1041.5 368.8h0M1041.6 741.0h0M1042.5 408.1h0M1042.6 806.4h0M1042.7 215.0h0M1043.2 347.0h0M1043.2 349.3h0" fill="none" stroke-width="4.80" stroke-linecap="round"/>
<path d="M963.8 23.8h0M973.4 23.3h0M1009.5 23.7h0M1029.4 23.7h0M1030.2 23.6h0M1039.0 23.4h0" fill="none" stroke-width="5.20" stroke-linecap="round"/>
<path d="M941.7 21.1h0M942.4 20.6h0M943.1 20.4h0M943.9 20.0h0M945.4 19.9h0M949.8 19.1h0M950.5 19.5h0M956.4 20.4h0M957.2 19.2h0M960.8 20.1h0M963.8 20.3h0M965.3 20.7h0M966.7 19.8h0M970.4 20.3h0M971.9 19.9h0M972.6 20.6h0M978.5 19.6h0M980.0 19.5h0M984.4 19.7h0M986.7 23.3h0M987.4 20.2h0M990.3 19.2h0M992.6 19.2h0M993.3 18.1h0M995.5 19.9h0M996.2 20.2h0M997.7 19.9h0M998.5 19.6h0M1000.7 19.6h0M1003.6 24.3h0M1004.4 20.3h0M1005.1 20.2h0M1005.8 19.7h0M1007.3 20.5h0M1008.8 20.4h0M1012.5 21.2h0M1012.5 22.9h0M1013.2 19.3h0M1016.2 20.2h0M1023.5 19.7h0M1025.7 19.7h0M1027.9 23.9h0M1030.9 20.5h0M1032.4 22.7h0M1033.8 23.2h0M1039.0 20.6h0M1039.7 19.6h0" fill="none" stroke-width="5.60" stroke-linecap="round"/>
<path d="M944.6 19.9h0M947.6 20.3h0M948.3 20.5h0M949.0 19.2h0M950.5 35.6h0M952.0 20.2h0M952.7 18.9h0M953.5 20.3h0M954.2 19.6h0M954.9 19.8h0M955.7 19.6h0M957.9 19.9h0M962.2 44.9h0M962.3 20.3h0M966.0 20.0h0M967.5 21.4h0M968.2 20.5h0M969.0 19.1h0M973.4 20.4h0M974.1 20.8h0M974.9 19.6h0M975.6 19.9h0M976.3 20.1h0M977.8 19.8h0M979.3 19.8h0M980.8 20.0h0M981.5 19.5h0M982.2 19.9h0M985.2 20.3h0M985.9 20.4h0M988.9 20.2h0M989.6 20.8h0M991.8 411.4h0M994.0 20.4h0M997.0 19.9h0M999.9 20.3h0M1002.1 19.8h0M1002.9 20.6h0M1003.6 20.1h0M1009.5 19.4h0M1011.0 21.2h0M1015.4 20.1h0M1018.4 18.1h0M1019.8 20.6h0M1020.6 20.4h0M1021.3 20.6h0M1022.0 20.7h0M1022.8 20.9h0M1024.3 20.5h0M1026.5 20.4h0M1027.2 20.2h0M1027.9 19.5h0M1028.7 20.4h0M1030.2 20.0h0M1033.1 20.3h0M1035.3 20.0h0M1036.1 19.9h0M1036.8 20.6h0M1038.3 20.2h0M1040.5 20.1h0M1042.7 20.8h0" fill="none" stroke-width="6.00" stroke-linecap="round"/>
<path d="M946.1 19.8h0M946.8 20.3h0M951.3 19.6h0M958.6 19.8h0M959.4 19.8h0M960.1 20.2h0M961.6 20.3h0M963.1 20.3h0M964.5 19.6h0M971.2 19.8h0M977.1 19.7h0M983.0 19.1h0M983.7 20.6h0M986.7 20.3h0M988.1 20.0h0M991.1 19.9h0M991.8 20.1h0M994.8 19.1h0M999.2 19.5h0M1001.4 19.6h0M1006.6 20.5h0M1008.0 20.4h0M1011.7 19.2h0M1013.9 19.6h0M1014.7 18.8h0M1025.0 19.3h0M1029.4 20.2h0M1031.6 20.3h0M1037.5 20.7h0" fill="none" stroke-width="6.40" stroke-linecap="round"/>
<circle cx="1043.4" cy="537.6" r="3.8" fill="#a0a822" stroke="none"/>
<path d="M1044.2 599.0h0M1044.5 613.3h0M1044.5 692.0h0M1044.6 522.2h0M1045.4 806.4h0M1046.0 213.1h0M1046.5 596.6h0M1046.6 666.6h0M1047.0 204.9h0M1047.2 84.9h0M1047.5 213.0h0M1047.5 753.5h0M1047.7 599.3h0M1048.0 45.3h0M1048.1 334.7h0M1048.8 84.9h0M1049.0 87.6h0M1049.0 118.1h0M1049.0 201.8h0M1049.6 377.0h0M1051.0 214.3h0M1051.1 185.4h0M1051.1 187.7h0M1051.2 607.8h0M1051.3 692.0h0M1051.5 377.0h0M1051.9 537.6h0M1052.1 35.6h0M1052.2 522.2h0M1052.3 613.3h0M1052.5 212.4h0M1053.2 692.0h0M1053.3 334.7h0M1053.7 600.4h0M1054.1 45.3h0M1054.1 173.5h0M1054.3 201.4h0M1054.8 84.9h0M1055.8 214.0h0M1056.0 201.4h0M1056.2 334.7h0M1056.4 151.6h0M1056.5 600.4h0M1056.6 177.8h0M1057.4 23.6h0M1057.7 607.3h0M1058.0 212.9h0M1058.0 151.6h0M1058.4 692.0h0M1058.6 35.6h0M1059.3 262.8h0M1059.9 766.1h0M1060.1 666.6h0M1060.8 751.6h0M1060.9 212.3h0M1061.0 604.8h0M1061.8 766.1h0M1062.2 845.2h0M1062.3 334.7h0M1062.8 213.6h0M1064.0 378.2h0M1064.4 204.9h0M1065.0 45.3h0M1065.8 118.1h0M1065.8 201.8h0M1066.6 214.2h0M1067.1 377.0h0M1068.9 213.7h0M1069.1 692.0h0M1069.4 408.1h0M1069.9 377.0h0M1070.1 213.0h0M1070.6 347.0h0M1070.6 349.3h0M1071.1 515.6h0M1071.9 692.0h0M1072.6 27.4h0M1073.2 518.7h0M1074.1 214.3h0M1074.2 393.9h0M1074.2 413.3h0M1074.2 424.6h0M1074.4 176.7h0M1074.4 536.4h0M1074.7 151.6h0M1074.7 201.4h0M1074.7 263.4h0M1075.4 286.1h0M1075.7 393.9h0M1076.2 151.6h0M1076.2 201.4h0M1076.4 607.2h0M1076.7 170.0h0M1077.1 177.1h0M1077.1 393.9h0M1077.7 216.8h0M1077.7 151.6h0M1077.7 201.4h0M1077.7 353.4h0M1077.7 461.8h0M1078.6 393.9h0M1079.3 151.6h0M1079.3 201.4h0M1079.3 713.0h0M1079.3 180.8h0M1079.8 41.2h0M1079.8 178.4h0M1080.1 393.9h0M1080.8 151.6h0M1080.8 201.4h0M1081.2 607.9h0M1081.6 393.9h0M1082.3 151.6h0M1082.3 201.4h0M1082.5 460.2h0M1082.9 300.3h0M1082.9 305.5h0M1083.1 393.9h0M1083.2 181.0h0M1083.9 151.6h0M1083.9 201.4h0M1084.3 35.6h0M1084.5 393.9h0M1084.6 177.5h0M1085.4 151.6h0M1085.4 201.4h0M1086.0 393.9h0M1086.1 609.8h0M1086.3 180.9h0M1086.5 328.0h0M1086.6 809.7h0M1087.0 151.6h0M1087.0 201.4h0M1087.8 797.8h0M1088.0 609.8h0M1088.5 151.6h0M1089.7 797.8h0M1089.9 693.1h0M1090.0 151.6h0M1091.3 45.3h0M1091.6 151.6h0M1091.8 693.1h0M1092.9 45.3h0M1093.1 151.6h0M1093.3 769.9h0M1093.6 200.6h0M1094.1 27.4h0M1094.8 200.7h0M1095.1 769.9h0M1095.9 843.5h0M1096.1 610.7h0M1096.2 213.7h0M1096.5 179.1h0M1096.7 332.8h0M1096.8 850.6h0M1097.3 201.3h0M1098.2 35.6h0M1098.2 151.6h0M1098.4 178.8h0M1099.1 413.3h0M1099.1 418.5h0M1099.9 760.2h0M1100.0 413.3h0M1100.0 418.7h0M1100.2 305.5h0M1100.3 38.7h0M1100.4 713.0h0M1100.5 202.5h0M1100.7 305.5h0M1100.8 612.6h0M1101.2 521.5h0M1101.7 176.8h0M1102.0 673.3h0M1102.2 713.0h0M1102.4 151.6h0M1102.4 161.4h0M1102.6 200.0h0M1103.1 304.6h0M1103.4 202.1h0M1103.5 178.7h0M1103.7 684.2h0M1103.7 686.5h0M1104.4 27.4h0M1104.7 300.3h0M1104.7 393.9h0M1104.8 168.6h0M1104.8 170.6h0M1105.6 859.6h0M1105.6 179.7h0M1105.9 521.5h0M1106.5 180.6h0M1107.1 216.8h0M1107.1 284.2h0M1107.2 201.3h0M1107.9 614.3h0M1108.5 347.7h0M1108.9 199.9h0M1108.9 176.3h0" fill="none" stroke-width="4.80" stroke-linecap="round"/>
<path d="M1052.3 24.3h0M1056.0 23.6h0M1062.6 22.8h0M1067.0 23.0h0M1089.2 24.4h0M1091.4 23.5h0M1103.9 22.6h0M1104.6 24.1h0M1107.6 24.0h0" fill="none" stroke-width="5.20" stroke-linecap="round"/>
<path d="M1043.4 20.3h0M1043.4 22.6h0M1044.9 24.0h0M1047.9 18.6h0M1048.6 19.1h0M1053.0 20.0h0M1056.0 20.5h0M1056.7 19.3h0M1057.4 20.4h0M1058.9 20.1h0M1060.4 21.2h0M1061.9 20.7h0M1063.3 20.2h0M1064.8 20.1h0M1079.6 19.5h0M1083.3 21.3h0M1084.0 24.3h0M1084.7 21.5h0M1086.9 20.4h0M1090.6 19.2h0M1091.4 20.2h0M1093.6 19.6h0M1094.3 19.5h0M1097.3 19.8h0M1098.7 19.7h0M1102.4 19.1h0M1104.6 19.1h0M1107.6 19.9h0M1109.5 347.7h0M1109.5 408.1h0" fill="none" stroke-width="5.60" stroke-linecap="round"/>
<path d="M1044.2 20.1h0M1045.6 19.7h0M1046.4 21.3h0M1050.1 20.4h0M1050.8 19.8h0M1052.3 20.8h0M1054.5 18.8h0M1067.8 19.4h0M1068.5 19.0h0M1069.2 19.2h0M1070.7 19.6h0M1071.5 21.1h0M1076.6 19.0h0M1078.1 19.6h0M1078.8 19.7h0M1081.0 19.0h0M1082.5 19.4h0M1086.2 20.6h0M1087.7 19.0h0M1089.2 18.5h0M1089.9 18.9h0M1095.1 20.5h0M1095.8 21.5h0M1098.0 20.0h0M1099.5 18.4h0M1101.0 21.0h0M1101.7 19.9h0M1103.2 20.1h0M1103.9 20.1h0M1105.4 20.0h0M1106.9 19.3h0M1108.3 19.8h0" fill="none" stroke-width="6.00" stroke-linecap="round"/>
<path d="M1044.9 35.6h0M1044.9 20.6h0M1053.8 21.1h0M1055.2 19.3h0M1058.2 20.1h0M1059.7 20.0h0M1061.1 19.6h0M1062.6 21.4h0M1064.1 20.0h0M1066.3 20.2h0M1081.8 20.5h0M1085.5 20.2h0M1088.4 19.4h0M1090.8 337.0h0M1092.8 20.6h0M1093.5 83.9h0M1106.1 21.6h0M1109.1 20.2h0" fill="none" stroke-width="6.40" stroke-linecap="round"/>
<path d="M1054.8 334.4h0" fill="none" stroke-width="6.80" stroke-linecap="round"/>
<circle cx="1109.9" cy="19.2" r="3.5" fill="#86a548" stroke="none"/>
<circle cx="1109.9" cy="35.6" r="4" fill="#a8a81c" stroke="none"/>
<path d="M1110.2 178.6h0M1110.4 347.7h0M1110.7 202.7h0M1112.6 259.3h0M1112.9 177.7h0M1113.6 162.2h0M1113.8 202.5h0M1114.4 177.9h0M1114.7 277.6h0M1115.0 613.8h0M1115.4 522.2h0M1115.7 35.6h0M1115.7 45.3h0M1116.1 499.7h0M1116.1 502.1h0M1116.3 200.7h0M1116.6 180.4h0M1117.0 200.4h0M1117.5 454.3h0M1117.5 466.6h0M1118.1 179.9h0M1118.8 258.3h0M1118.8 260.7h0M1118.8 265.4h0M1120.0 202.0h0M1121.4 265.4h0M1121.5 176.8h0M1122.7 465.6h0M1123.0 202.1h0M1123.6 179.7h0M1124.3 679.9h0M1124.7 202.2h0M1124.9 351.7h0M1124.9 162.2h0M1125.6 177.6h0M1126.2 615.0h0M1126.6 201.6h0M1126.7 178.1h0M1128.6 876.8h0M1129.7 179.1h0M1130.5 876.8h0M1130.7 178.3h0M1130.8 277.6h0M1132.3 616.9h0M1132.4 408.1h0M1133.2 347.0h0M1133.2 349.3h0M1134.2 616.9h0M1136.2 28.1h0M1136.2 151.6h0M1137.7 151.6h0M1137.8 45.3h0M1138.1 876.8h0M1138.1 499.2h0M1138.1 501.6h0M1139.3 151.6h0M1139.6 485.0h0M1140.4 744.3h0M1140.8 151.6h0M1141.0 284.7h0M1141.3 255.2h0M1141.7 464.7h0M1141.9 211.1h0M1142.4 151.6h0M1143.1 412.8h0M1143.6 464.7h0M1143.9 151.6h0M1144.0 533.4h0M1144.5 882.0h0M1145.2 24.0h0M1145.4 151.6h0M1145.5 470.8h0M1146.1 179.9h0M1146.1 253.1h0M1146.4 492.6h0M1147.0 151.6h0M1147.7 745.0h0M1147.8 274.3h0M1148.1 267.5h0M1148.3 492.6h0M1148.5 151.6h0M1148.5 261.7h0M1149.9 886.3h0" fill="none" stroke-width="4.80" stroke-linecap="round"/>
<path d="M1134.1 23.5h0M1139.3 24.2h0M1144.5 22.5h0M1147.4 23.2h0" fill="none" stroke-width="5.20" stroke-linecap="round"/>
<path d="M1111.3 19.4h0M1112.0 20.9h0M1114.2 20.4h0M1116.4 19.6h0M1118.6 19.9h0M1121.6 20.0h0M1123.1 20.0h0M1123.8 19.6h0M1123.8 24.1h0M1124.5 20.0h0M1125.3 19.9h0M1130.4 19.4h0M1133.4 20.2h0M1134.9 19.4h0M1137.8 18.8h0M1139.3 21.1h0M1141.5 18.9h0M1143.0 20.2h0M1143.0 24.0h0M1144.5 20.7h0M1146.7 19.4h0M1147.4 492.6h0M1148.1 20.3h0M1149.6 19.6h0" fill="none" stroke-width="5.60" stroke-linecap="round"/>
<path d="M1110.5 20.1h0M1112.7 17.6h0M1115.0 19.8h0M1117.2 20.2h0M1117.9 20.5h0M1120.9 19.5h0M1122.3 19.0h0M1126.8 20.7h0M1127.5 17.9h0M1128.2 20.0h0M1131.2 19.9h0M1131.9 20.7h0M1132.7 20.6h0M1134.1 19.2h0M1135.6 19.7h0M1136.3 19.5h0M1137.1 21.9h0M1143.7 21.1h0M1148.9 20.8h0" fill="none" stroke-width="6.00" stroke-linecap="round"/>
<path d="M1115.7 18.5h0M1119.4 19.7h0M1126.0 21.3h0M1129.7 19.2h0M1132.5 35.6h0M1138.6 18.7h0M1147.4 20.4h0" fill="none" stroke-width="6.40" stroke-linecap="round"/>
<circle cx="1150.2" cy="18.2" r="3.5" fill="#86a548" stroke="none"/>
<path d="M1150.4 21.1h0" fill="none" stroke-width="5.60" stroke-linecap="round"/>
<circle cx="1150.6" cy="28.1" r="3.8" fill="#86a548" stroke="none"/>
<path d="M1151.0 618.1h0M1152.0 213.1h0M1152.1 377.0h0M1152.3 465.6h0M1152.6 84.9h0M1152.8 243.9h0M1153.2 44.9h0M1153.5 351.7h0M1153.6 204.9h0M1154.1 151.4h0M1154.2 366.6h0M1154.5 243.9h0M1154.6 619.0h0M1154.8 656.4h0M1155.7 378.5h0M1155.7 179.3h0M1155.9 306.7h0M1155.9 35.6h0M1156.0 151.4h0M1156.4 496.9h0M1156.5 768.2h0M1156.7 43.9h0M1157.1 162.2h0M1157.5 35.6h0M1158.0 169.0h0M1158.2 889.4h0M1158.3 153.4h0M1158.6 802.6h0M1158.8 39.7h0M1158.8 48.0h0M1159.4 240.4h0M1159.6 808.7h0M1159.6 169.0h0M1160.4 86.3h0M1160.8 152.0h0M1160.8 178.2h0M1160.8 201.4h0M1161.2 176.4h0M1161.5 808.7h0M1161.6 151.8h0M1161.7 800.2h0M1161.8 519.1h0M1162.3 152.0h0M1162.3 178.2h0M1162.4 201.4h0M1162.5 153.4h0M1162.7 180.3h0M1163.7 519.1h0M1163.8 152.0h0M1163.8 178.2h0M1163.9 201.4h0M1163.9 211.1h0M1164.4 23.6h0M1164.7 151.0h0M1164.7 180.8h0M1164.9 48.0h0M1165.2 152.0h0M1165.2 178.2h0M1165.4 201.4h0M1166.0 162.2h0M1166.3 151.1h0M1166.5 177.5h0M1166.7 152.0h0M1166.7 178.2h0M1167.0 201.4h0M1167.1 755.9h0M1168.2 152.0h0M1168.2 178.2h0M1168.5 201.4h0M1168.6 177.1h0M1169.2 151.6h0M1169.3 739.6h0M1169.6 152.0h0M1169.6 178.2h0M1169.9 243.9h0M1169.9 291.3h0M1170.1 201.4h0M1170.1 180.9h0M1170.7 35.0h0M1170.7 162.2h0M1170.7 697.9h0M1170.9 151.6h0M1171.1 152.0h0M1171.1 178.2h0M1171.1 214.6h0M1171.5 243.9h0M1171.6 201.4h0M1171.9 619.3h0M1172.6 180.2h0M1172.6 150.6h0M1172.7 277.6h0M1172.7 505.2h0M1173.1 201.4h0M1173.4 446.2h0M1174.0 22.9h0M1174.0 180.7h0M1174.9 151.2h0M1175.2 168.0h0M1175.2 170.0h0M1175.6 162.2h0M1176.2 28.1h0M1176.2 178.9h0M1176.4 698.6h0M1176.6 739.6h0M1176.9 149.7h0M1177.0 280.7h0M1177.0 362.4h0M1177.2 459.0h0M1177.2 461.4h0M1177.7 176.4h0M1177.9 45.3h0M1178.2 343.9h0M1178.9 287.1h0M1178.9 196.7h0M1178.9 210.0h0M1179.3 358.8h0M1179.4 178.4h0M1179.5 150.5h0M1179.6 528.1h0M1180.5 210.0h0M1181.2 179.4h0M1181.3 201.4h0M1181.3 620.2h0M1182.0 151.7h0M1182.3 176.4h0M1182.9 271.2h0M1183.4 274.3h0M1184.2 55.5h0M1184.4 152.2h0M1184.9 812.5h0M1185.0 176.8h0M1185.0 84.9h0M1185.4 45.3h0M1185.4 213.7h0M1185.9 55.5h0M1186.5 153.1h0M1187.6 535.2h0M1188.0 150.9h0M1189.0 350.5h0M1189.5 377.0h0M1189.5 535.2h0M1189.8 262.8h0M1190.0 198.8h0M1190.0 213.7h0M1190.6 724.2h0M1191.2 150.2h0M1191.2 540.5h0M1191.4 893.9h0M1191.4 262.8h0M1191.6 179.9h0M1191.9 421.1h0M1192.5 664.7h0M1193.7 177.2h0M1193.7 201.4h0M1195.0 351.7h0M1195.1 45.3h0M1195.1 84.9h0M1195.1 213.7h0M1195.4 287.8h0M1196.9 252.1h0M1197.2 666.6h0M1197.8 151.6h0M1197.8 173.5h0M1197.8 201.4h0M1198.3 553.7h0M1198.6 252.1h0M1199.2 151.6h0M1199.3 733.6h0M1199.9 557.7h0M1200.6 151.6h0M1200.8 173.5h0" fill="none" stroke-width="4.80" stroke-linecap="round"/>
<path d="M1154.8 22.4h0M1168.1 23.1h0M1173.2 23.2h0M1176.9 22.8h0M1181.3 24.2h0M1185.0 23.1h0" fill="none" stroke-width="5.20" stroke-linecap="round"/>
<path d="M1151.8 18.2h0M1152.6 20.5h0M1154.0 20.2h0M1154.8 19.5h0M1161.4 20.3h0M1162.2 20.3h0M1162.2 23.4h0M1162.9 23.3h0M1164.4 20.5h0M1166.6 18.7h0M1167.7 888.7h0M1170.3 20.4h0M1171.0 20.1h0M1173.2 19.4h0M1179.9 20.6h0M1182.1 22.3h0M1183.5 17.8h0M1185.0 19.4h0M1187.2 20.7h0M1189.4 22.4h0M1190.2 20.0h0M1192.4 19.5h0M1195.3 20.2h0M1196.8 21.0h0" fill="none" stroke-width="5.60" stroke-linecap="round"/>
<path d="M1162.9 20.5h0M1165.1 19.8h0M1170.7 243.9h0M1174.7 20.0h0M1177.6 20.6h0M1179.1 21.3h0M1184.3 20.5h0M1186.5 20.5h0M1188.0 20.1h0M1188.7 20.1h0M1197.6 19.9h0M1201.2 19.6h0" fill="none" stroke-width="6.00" stroke-linecap="round"/>
<path d="M1153.3 21.1h0M1160.7 19.8h0M1165.8 20.4h0M1167.3 20.5h0M1168.1 21.6h0M1168.8 19.4h0M1172.5 20.1h0M1176.2 19.1h0M1178.4 20.3h0M1181.3 20.6h0M1182.8 19.3h0M1185.8 20.1h0M1200.5 19.6h0" fill="none" stroke-width="6.40" stroke-linecap="round"/>
<circle cx="1201.3" cy="19.3" r="15.1" fill="#e32a00" stroke="none"/>
<circle cx="1201.6" cy="467.0" r="15.6" fill="#e32a00" stroke="none"/>
<circle cx="1201.6" cy="705.7" r="15.6" fill="#003e42" stroke="none"/>
<path d="M1202.1 151.6h0M1202.5 432.2h0M1203.4 433.5h0M1203.5 151.6h0M1204.3 434.7h0M1204.9 151.6h0M1205.2 436.0h0M1206.1 437.2h0M1206.4 151.6h0M1206.9 438.5h0M1207.8 439.8h0M1207.8 151.6h0M1208.7 441.0h0M1209.2 151.6h0M1209.6 442.3h0M1210.4 443.5h0M1210.7 151.6h0M1210.8 412.8h0M1211.3 413.5h0M1211.3 444.8h0M1211.4 697.2h0M1212.1 151.6h0M1212.4 412.8h0M1212.6 414.6h0M1213.0 697.2h0M1213.9 415.8h0M1214.0 412.8h0M1214.6 697.2h0M1215.2 416.9h0M1215.6 412.8h0M1216.0 478.4h0M1216.2 697.2h0M1216.5 418.0h0M1217.1 479.4h0M1217.2 412.8h0M1217.7 697.2h0M1218.1 480.5h0M1218.8 412.8h0M1219.2 481.5h0M1219.3 697.2h0M1220.1 369.5h0M1220.2 482.6h0M1220.4 412.8h0M1220.9 697.2h0M1221.3 483.6h0M1221.4 35.6h0M1221.4 162.2h0M1221.6 620.9h0M1221.7 369.5h0M1222.0 412.8h0M1222.4 179.3h0M1222.8 28.1h0M1222.8 80.4h0M1223.4 369.5h0M1224.3 349.8h0M1224.6 151.6h0M1225.0 369.5h0M1225.5 168.0h0M1225.5 170.0h0M1225.9 622.6h0M1226.3 151.6h0M1226.5 178.2h0M1226.5 201.4h0M1226.7 369.5h0M1227.5 35.6h0M1227.8 622.6h0" fill="none" stroke-width="4.80" stroke-linecap="round"/>
<path d="M1218.2 24.3h0" fill="none" stroke-width="5.20" stroke-linecap="round"/>
<path d="M1207.1 19.8h0M1208.6 20.1h0M1210.1 20.4h0M1210.8 20.4h0M1212.3 20.2h0M1213.0 24.0h0M1213.8 20.8h0M1214.5 20.1h0M1216.0 20.1h0M1218.2 19.8h0M1218.9 19.9h0M1223.4 20.7h0M1225.5 151.6h0M1225.6 20.0h0M1226.3 20.7h0M1227.0 19.5h0M1227.8 19.0h0" fill="none" stroke-width="5.60" stroke-linecap="round"/>
<path d="M1203.5 19.6h0M1204.2 18.6h0M1205.7 20.2h0M1206.4 20.5h0M1209.3 20.2h0M1211.6 20.7h0M1213.0 19.0h0M1215.2 20.5h0M1216.7 19.7h0M1217.5 20.1h0M1219.7 19.4h0M1222.6 19.8h0M1224.8 20.8h0" fill="none" stroke-width="6.00" stroke-linecap="round"/>
<path d="M1202.0 20.1h0M1204.9 20.6h0M1207.9 19.6h0M1220.4 21.1h0M1221.9 19.9h0M1224.1 19.4h0" fill="none" stroke-width="6.40" stroke-linecap="round"/>
<circle cx="1227.9" cy="522.2" r="4" fill="#a8a81c" stroke="none"/>
<circle cx="1228.0" cy="613.3" r="4" fill="#86a548" stroke="none"/>
<path d="M1228.0 823.9h0M1228.5 219.3h0M1228.6 293.2h0M1229.2 825.0h0M1229.2 654.1h0M1229.4 220.6h0M1229.5 294.5h0M1229.6 181.3h0M1230.3 221.9h0M1230.4 826.2h0M1230.5 295.8h0M1230.7 654.1h0M1231.2 223.2h0M1231.4 297.0h0M1231.6 827.3h0M1231.6 656.9h0M1232.1 181.3h0M1232.1 224.5h0M1232.1 654.1h0M1232.4 813.2h0M1232.4 298.3h0M1232.7 828.5h0M1233.0 225.8h0M1233.1 656.9h0M1233.3 299.6h0M1233.6 654.1h0M1233.9 829.6h0M1234.5 656.9h0M1235.1 654.1h0M1235.1 830.8h0M1235.5 813.2h0M1236.0 656.9h0M1236.3 831.9h0M1236.5 181.3h0M1236.6 654.1h0M1237.5 833.1h0M1237.5 656.9h0M1238.1 654.1h0M1238.7 181.3h0M1238.7 834.2h0M1239.0 656.9h0M1239.3 431.8h0M1239.6 654.1h0M1239.8 835.4h0M1239.9 813.2h0M1240.3 432.9h0M1240.5 656.9h0M1241.0 654.1h0M1241.0 836.5h0M1241.3 434.0h0M1242.0 656.9h0M1242.1 181.3h0M1242.2 837.7h0M1242.3 435.1h0M1242.5 654.1h0M1242.8 813.2h0M1243.3 436.3h0M1243.4 838.8h0M1243.5 656.9h0M1244.0 292.5h0M1244.0 654.1h0M1244.1 219.3h0M1244.5 181.3h0M1244.6 840.0h0M1244.9 293.7h0M1245.0 220.5h0M1245.0 656.9h0M1245.5 654.1h0M1245.7 294.9h0M1245.9 221.7h0M1246.5 656.9h0M1246.6 296.1h0M1246.8 223.0h0M1247.0 654.1h0M1247.0 813.2h0M1247.5 297.2h0M1247.7 224.2h0M1248.0 181.3h0M1248.0 656.9h0M1248.3 298.4h0M1248.4 654.1h0M1248.6 225.4h0M1249.2 299.6h0M1249.3 813.2h0M1249.5 656.9h0M1249.6 813.2h0M1249.8 181.3h0M1249.9 654.1h0M1250.4 814.4h0M1251.0 656.9h0M1251.4 654.1h0M1251.5 815.5h0M1252.5 656.9h0M1252.5 816.6h0M1252.7 181.3h0M1252.9 654.1h0M1252.9 813.2h0M1253.6 817.8h0M1254.0 656.9h0M1254.4 654.1h0M1254.4 431.8h0M1254.6 818.9h0M1255.5 656.9h0M1255.6 432.9h0M1255.7 820.0h0M1255.8 654.1h0M1256.8 434.0h0M1256.8 821.2h0M1257.0 656.9h0M1257.3 654.1h0M1257.8 822.3h0M1258.0 435.1h0M1258.5 656.9h0M1258.8 654.1h0M1258.9 823.5h0M1259.1 436.3h0M1259.4 357.2h0M1259.9 542.4h0M1260.0 656.9h0M1260.0 824.6h0M1260.0 844.7h0M1260.4 849.0h0M1260.7 766.1h0M1261.0 361.2h0M1261.2 152.5h0M1261.2 177.0h0M1261.4 201.3h0M1262.0 351.2h0M1262.6 130.6h0M1262.6 221.3h0M1262.6 181.7h0M1262.8 45.3h0M1263.6 881.6h0M1263.6 883.9h0M1263.6 889.9h0M1263.8 901.7h0M1264.3 176.4h0M1264.4 45.3h0M1264.4 200.4h0M1264.6 151.4h0M1264.7 623.3h0M1265.4 613.3h0M1265.5 151.5h0M1265.7 901.7h0M1265.8 522.2h0M1265.9 214.1h0M1266.3 84.9h0M1266.3 179.3h0M1266.5 203.8h0M1266.6 688.4h0M1267.2 408.1h0M1267.5 214.1h0M1268.1 175.5h0M1268.3 261.9h0M1268.5 203.1h0M1268.6 152.8h0M1269.0 180.5h0M1269.4 624.0h0M1269.8 203.8h0M1270.4 35.6h0M1270.7 151.2h0M1270.9 775.1h0" fill="none" stroke-width="4.80" stroke-linecap="round"/>
<path d="M1235.2 22.8h0M1262.4 24.0h0M1264.7 22.7h0M1266.9 22.3h0M1270.6 23.6h0" fill="none" stroke-width="5.20" stroke-linecap="round"/>
<path d="M1230.0 19.5h0M1234.4 20.1h0M1237.4 24.0h0M1238.1 19.3h0M1240.3 19.8h0M1241.8 20.7h0M1245.5 19.9h0M1248.4 19.9h0M1249.9 19.9h0M1252.1 19.8h0M1255.1 19.5h0M1256.5 19.6h0M1258.0 20.2h0M1259.5 20.5h0M1261.0 18.8h0M1261.7 19.5h0M1263.2 20.2h0M1264.7 19.2h0M1266.1 20.6h0M1269.1 19.9h0" fill="none" stroke-width="5.60" stroke-linecap="round"/>
<path d="M1228.5 20.0h0M1229.3 19.9h0M1232.2 19.6h0M1233.7 19.1h0M1235.2 20.0h0M1235.9 19.3h0M1236.6 20.5h0M1237.4 19.9h0M1238.8 20.0h0M1239.6 19.6h0M1241.1 20.1h0M1243.3 19.8h0M1247.0 20.6h0M1247.7 19.9h0M1249.2 20.2h0M1250.6 20.5h0M1251.4 20.2h0M1252.9 20.0h0M1253.6 20.3h0M1254.3 20.2h0M1257.3 20.3h0M1262.4 19.5h0M1265.4 20.6h0M1266.9 19.2h0M1267.6 20.2h0M1270.6 19.4h0" fill="none" stroke-width="6.00" stroke-linecap="round"/>
<path d="M1230.7 19.9h0M1231.5 20.4h0M1232.9 20.3h0M1242.5 20.7h0M1244.0 20.1h0M1244.7 20.4h0M1246.2 19.5h0M1255.8 19.5h0M1258.8 19.8h0M1260.2 19.2h0M1263.9 19.3h0M1268.3 19.7h0M1269.8 19.5h0" fill="none" stroke-width="6.40" stroke-linecap="round"/>
<circle cx="1271.0" cy="322.6" r="3.5" fill="#8fa635" stroke="none"/>
<path d="M1271.1 181.1h0M1271.6 176.8h0M1271.7 377.0h0M1272.2 250.0h0M1272.4 213.1h0M1272.5 203.7h0M1273.3 176.1h0M1273.3 35.6h0M1273.9 262.4h0M1273.9 750.0h0M1274.2 624.9h0M1275.2 889.9h0M1275.3 276.6h0M1275.7 35.6h0M1276.0 353.4h0M1276.0 178.8h0M1276.2 429.4h0M1276.9 27.4h0M1277.5 177.3h0M1277.9 23.5h0M1278.1 429.4h0M1278.3 931.3h0" fill="none" stroke-width="4.80" stroke-linecap="round"/>
<path d="M1271.3 19.5h0M1272.0 19.0h0M1272.8 19.7h0M1277.2 19.2h0M1277.9 19.7h0M1278.7 20.0h0" fill="none" stroke-width="5.60" stroke-linecap="round"/>
<path d="M1273.5 20.6h0M1274.2 19.6h0M1275.0 19.9h0M1275.7 19.8h0M1276.5 20.1h0" fill="none" stroke-width="6.00" stroke-linecap="round"/>
<circle cx="1278.8" cy="378.5" r="4" fill="#aaa822" stroke="none"/>
<circle cx="1278.8" cy="281.8" r="4" fill="#86a548" stroke="none"/>
<path d="M1278.8 35.6h0M1278.9 671.1h0M1279.0 177.9h0M1279.0 451.6h0M1279.6 625.7h0M1279.8 180.2h0M1280.4 213.7h0M1281.1 766.6h0M1281.2 517.0h0M1281.3 716.1h0M1281.7 147.8h0M1281.8 708.5h0M1281.8 727.0h0M1282.3 175.5h0M1282.4 355.7h0M1282.5 788.4h0M1283.0 201.4h0M1283.1 154.1h0M1283.4 179.1h0M1284.5 177.3h0M1284.7 283.7h0M1285.4 201.4h0M1285.4 382.0h0M1286.0 176.2h0M1286.0 147.9h0M1286.3 845.2h0M1286.5 201.4h0M1286.8 40.4h0M1286.8 162.2h0M1286.8 258.3h0M1287.0 148.1h0M1287.2 709.7h0M1287.7 739.6h0M1287.7 178.9h0M1288.4 786.7h0M1289.2 739.6h0M1289.6 698.4h0M1289.8 176.2h0M1290.3 185.4h0M1290.3 187.7h0M1290.5 23.1h0M1290.6 177.0h0M1290.6 201.4h0M1290.7 739.6h0M1290.9 149.6h0M1291.3 27.4h0M1292.2 739.6h0M1292.3 539.3h0M1292.7 626.1h0M1292.9 154.8h0M1293.0 176.0h0M1293.6 201.4h0M1293.7 739.6h0M1294.1 176.2h0M1294.4 35.6h0M1294.5 149.7h0M1294.6 626.1h0M1294.8 613.3h0M1295.1 522.2h0M1295.2 739.6h0M1295.9 277.1h0M1296.3 178.6h0M1296.6 430.1h0M1296.7 739.6h0M1296.8 213.1h0M1297.0 175.4h0M1297.8 24.3h0M1297.9 152.5h0M1301.5 938.0h0M1306.0 462.3h0M1306.7 35.0h0M1306.7 162.2h0M1307.0 915.8h0M1307.2 412.8h0M1307.5 462.3h0M1307.7 151.6h0M1307.9 413.5h0M1308.7 412.8h0M1308.9 462.3h0M1309.2 414.6h0M1310.2 412.8h0M1310.4 462.3h0M1310.5 415.8h0M1311.7 412.8h0M1311.8 462.3h0M1311.8 416.9h0M1312.4 478.4h0M1312.6 23.3h0M1313.1 412.8h0M1313.1 418.0h0M1313.3 462.3h0M1313.5 479.6h0M1314.6 480.8h0M1314.6 412.8h0M1314.7 462.3h0M1315.7 482.0h0M1316.1 412.8h0M1316.2 462.3h0M1316.8 483.1h0M1317.4 152.2h0M1317.6 205.3h0M1317.6 412.8h0M1317.6 462.3h0M1317.9 484.3h0M1318.0 45.3h0M1318.0 943.1h0M1318.6 84.9h0M1318.6 217.6h0M1319.0 177.2h0M1319.0 179.5h0M1319.0 249.6h0M1319.1 412.8h0M1319.1 462.3h0M1319.3 526.5h0M1319.7 150.9h0M1319.8 291.8h0M1320.0 201.8h0M1320.0 244.9h0M1320.2 626.8h0M1320.4 619.3h0M1320.8 890.6h0M1321.4 152.3h0M1321.7 35.6h0M1321.7 291.8h0M1322.0 626.8h0M1322.1 161.8h0M1322.1 253.7h0M1322.5 890.6h0M1322.9 470.8h0M1323.0 745.3h0M1323.3 534.1h0M1324.1 890.6h0M1324.5 493.3h0M1324.7 470.8h0M1324.9 745.3h0M1325.1 254.6h0M1325.2 534.1h0M1325.3 152.0h0M1325.8 890.6h0M1325.8 781.5h0M1326.8 750.7h0M1327.5 890.6h0M1327.5 697.6h0M1327.6 150.1h0M1327.6 162.2h0M1328.2 24.4h0M1328.5 151.5h0M1328.8 178.6h0M1329.0 909.5h0M1329.7 199.6h0M1329.9 627.5h0M1330.5 909.5h0M1330.9 175.4h0M1331.3 203.5h0M1332.0 179.6h0M1332.1 152.9h0M1332.7 628.5h0M1333.0 200.2h0M1333.3 150.8h0M1333.6 213.7h0M1334.0 464.7h0M1334.1 890.0h0M1334.2 176.7h0M1334.5 376.6h0M1334.5 452.8h0M1335.2 213.7h0M1335.4 196.7h0M1335.6 151.5h0M1335.8 377.3h0M1335.8 200.5h0M1335.8 181.4h0M1336.4 328.0h0M1336.6 885.5h0M1337.1 378.0h0M1337.2 199.8h0M1337.6 178.7h0M1337.7 678.9h0M1338.4 378.7h0M1338.7 150.6h0M1339.1 23.0h0M1339.5 177.7h0M1339.6 203.6h0M1339.7 379.4h0M1339.9 483.9h0M1340.0 681.8h0M1340.5 939.3h0M1340.8 152.3h0M1341.6 271.9h0M1341.6 276.6h0M1342.0 181.7h0M1342.0 530.5h0M1342.8 203.4h0M1343.1 176.1h0M1343.9 970.5h0M1344.1 202.8h0M1345.3 249.4h0M1345.4 362.4h0M1345.4 459.0h0M1345.4 461.4h0M1345.4 523.4h0M1345.4 176.2h0M1345.6 280.7h0M1345.7 259.7h0M1346.0 718.3h0M1346.0 873.2h0M1346.2 181.1h0M1346.2 201.6h0M1346.3 299.6h0M1347.2 523.4h0M1347.5 300.8h0M1347.6 629.7h0M1347.7 151.6h0M1348.2 271.2h0M1348.6 180.5h0M1348.7 302.0h0M1348.7 459.5h0M1348.7 461.1h0M1348.8 842.1h0M1349.4 200.7h0M1349.6 328.0h0M1349.9 303.2h0M1350.0 459.5h0M1350.0 461.1h0M1350.3 180.9h0M1350.8 265.4h0M1351.4 459.5h0M1351.4 461.1h0M1351.8 260.7h0M1352.0 201.7h0M1352.2 175.9h0M1352.2 262.4h0M1352.6 264.0h0M1352.7 466.6h0M1352.8 459.5h0M1352.8 461.1h0M1353.0 265.6h0M1353.4 178.6h0M1353.5 267.3h0M1353.7 203.3h0M1353.9 268.9h0M1354.2 459.5h0M1354.2 461.1h0M1354.9 260.3h0M1355.5 454.3h0M1355.6 459.5h0M1355.6 461.1h0M1356.1 181.1h0M1356.2 975.5h0M1357.0 276.6h0M1357.0 459.5h0M1357.0 461.1h0M1357.1 179.1h0M1357.7 272.8h0M1357.8 884.9h0M1358.3 665.9h0M1358.5 152.5h0M1358.7 915.0h0M1359.3 178.3h0M1359.5 742.4h0M1359.9 783.1h0M1360.0 381.3h0M1360.5 150.3h0M1360.7 176.7h0M1361.1 24.4h0M1361.2 279.5h0M1361.5 199.2h0M1361.5 262.8h0M1362.3 150.5h0M1363.0 214.1h0M1363.0 630.9h0M1363.1 181.2h0M1363.1 172.1h0M1363.5 40.4h0M1364.2 679.2h0M1364.3 178.2h0M1365.0 214.1h0M1365.4 666.6h0M1365.9 631.6h0M1366.7 378.5h0M1366.7 478.6h0M1367.1 181.5h0M1367.2 162.2h0M1367.6 35.0h0M1368.0 175.6h0M1368.2 253.7h0M1369.0 462.3h0M1369.1 214.1h0M1369.7 152.0h0M1369.8 35.0h0M1370.1 785.0h0M1370.5 45.3h0M1370.9 181.6h0M1370.9 462.3h0M1371.2 458.3h0M1371.3 84.9h0M1371.9 532.4h0M1372.1 45.3h0M1372.2 214.1h0M1372.4 35.0h0M1372.5 632.0h0M1373.2 696.9h0M1373.4 223.8h0M1373.8 22.6h0M1374.0 162.2h0M1374.0 378.5h0M1375.0 900.5h0M1375.2 447.6h0M1375.7 214.1h0M1376.5 900.5h0M1377.7 670.2h0M1378.5 512.7h0M1379.1 201.8h0M1379.2 951.0h0M1379.5 27.4h0M1379.5 178.2h0M1379.8 663.8h0M1380.2 378.5h0M1380.6 353.4h0M1380.6 461.8h0M1380.8 780.1h0M1381.3 300.3h0M1381.3 458.3h0M1382.0 41.8h0M1382.1 378.5h0M1383.1 632.8h0M1383.5 362.4h0M1384.3 979.2h0M1384.6 35.0h0M1384.6 161.8h0M1384.8 990.4h0M1385.0 783.1h0M1385.2 45.3h0M1386.1 84.9h0M1386.7 176.9h0M1386.7 152.6h0M1386.7 633.9h0M1387.3 201.8h0M1387.6 151.4h0M1388.1 874.5h0M1388.1 268.9h0M1388.2 270.0h0M1388.2 291.8h0M1388.5 150.3h0M1388.9 45.3h0M1389.4 149.1h0M1389.4 165.9h0M1389.5 634.7h0M1390.1 297.2h0M1390.2 223.8h0M1390.2 178.2h0M1390.8 501.6h0M1391.3 45.3h0M1391.3 378.5h0M1391.9 991.6h0M1392.5 366.4h0M1392.5 431.5h0M1392.8 179.1h0M1392.8 378.5h0" fill="none" stroke-width="4.80" stroke-linecap="round"/>
<path d="M1353.9 23.1h0M1357.6 24.3h0M1367.9 22.9h0M1368.6 23.8h0M1391.5 23.1h0" fill="none" stroke-width="5.20" stroke-linecap="round"/>
<path d="M1283.1 19.8h0M1286.8 20.7h0M1287.5 20.2h0M1289.0 19.4h0M1291.2 20.2h0M1291.9 20.2h0M1293.4 22.8h0M1294.9 20.1h0M1296.4 20.5h0M1299.3 21.2h0M1300.8 19.6h0M1301.5 20.0h0M1303.0 20.4h0M1303.7 20.4h0M1304.5 20.6h0M1308.2 19.7h0M1309.6 19.8h0M1311.1 19.4h0M1314.1 19.7h0M1314.8 24.2h0M1315.5 19.2h0M1316.3 19.5h0M1317.7 19.4h0M1318.5 20.1h0M1320.0 20.0h0M1321.4 20.2h0M1322.9 19.3h0M1322.9 23.9h0M1324.4 19.7h0M1328.1 19.6h0M1328.8 19.7h0M1330.3 20.3h0M1333.2 19.4h0M1334.7 19.4h0M1335.4 20.0h0M1338.4 23.7h0M1340.6 19.2h0M1342.1 19.2h0M1346.5 20.3h0M1348.0 20.4h0M1350.2 20.2h0M1350.9 19.9h0M1352.4 19.5h0M1353.1 20.0h0M1353.9 20.4h0M1354.6 20.3h0M1361.3 19.4h0M1367.9 19.8h0M1368.6 20.4h0M1369.4 19.7h0M1370.1 19.7h0M1370.8 23.5h0M1371.6 20.1h0M1372.3 19.8h0M1375.3 20.0h0M1376.7 19.6h0M1377.5 20.4h0M1379.0 19.5h0M1379.7 19.0h0M1381.2 19.6h0M1383.4 20.6h0M1385.6 20.1h0M1387.8 19.1h0M1389.3 20.4h0M1390.0 23.5h0M1390.7 20.9h0" fill="none" stroke-width="5.60" stroke-linecap="round"/>
<path d="M1279.4 19.8h0M1280.1 19.8h0M1280.9 19.3h0M1282.4 20.5h0M1283.8 20.0h0M1285.3 19.5h0M1288.3 20.4h0M1292.7 20.3h0M1295.6 19.8h0M1297.1 20.2h0M1297.8 20.2h0M1300.0 20.0h0M1302.3 19.6h0M1305.2 20.3h0M1305.9 19.3h0M1306.7 19.8h0M1307.4 19.7h0M1308.9 20.1h0M1310.4 20.1h0M1311.8 20.7h0M1313.3 20.2h0M1314.8 19.7h0M1317.0 20.4h0M1319.2 19.7h0M1320.7 20.0h0M1322.2 20.2h0M1323.6 20.7h0M1325.1 21.2h0M1325.9 19.5h0M1326.6 20.2h0M1329.5 19.9h0M1331.0 19.1h0M1331.8 19.4h0M1332.5 21.3h0M1334.0 19.8h0M1336.2 19.2h0M1337.7 20.5h0M1339.1 19.5h0M1342.8 19.8h0M1345.8 19.3h0M1348.7 19.4h0M1349.5 19.7h0M1351.7 21.0h0M1357.6 20.0h0M1359.0 20.1h0M1359.8 21.4h0M1360.5 20.5h0M1362.0 19.8h0M1362.7 20.2h0M1364.2 19.3h0M1374.5 20.4h0M1376.0 20.2h0M1378.2 19.5h0M1380.4 19.7h0M1381.9 19.8h0M1382.6 20.5h0M1384.1 20.2h0M1384.9 20.7h0M1386.3 20.0h0M1388.5 19.6h0M1390.0 20.4h0M1391.5 20.5h0M1392.2 19.8h0" fill="none" stroke-width="6.00" stroke-linecap="round"/>
<path d="M1281.6 20.2h0M1286.0 20.7h0M1289.7 20.3h0M1290.5 20.7h0M1293.4 20.7h0M1294.2 18.9h0M1298.6 19.9h0M1312.6 20.5h0M1336.9 19.7h0M1339.9 20.0h0M1341.3 20.4h0M1343.6 21.0h0M1344.3 20.7h0M1345.0 19.8h0M1347.2 19.4h0M1355.4 19.1h0M1356.1 20.2h0M1356.8 19.6h0M1358.3 20.6h0M1363.5 19.6h0M1364.9 19.3h0M1365.7 19.5h0M1366.4 20.2h0M1367.2 20.6h0M1370.8 20.1h0M1373.1 19.5h0M1373.8 20.0h0M1387.1 18.9h0" fill="none" stroke-width="6.40" stroke-linecap="round"/>
<circle cx="1392.9" cy="35.6" r="3.8" fill="#86a548" stroke="none"/>
<path d="M1394.3 378.5h0M1394.4 431.5h0M1394.6 281.8h0M1395.2 177.3h0M1395.8 378.5h0M1396.1 201.4h0M1396.5 281.8h0M1396.7 346.5h0M1396.7 348.9h0M1397.4 378.5h0M1397.6 45.3h0M1397.8 177.5h0M1397.9 306.7h0M1398.0 242.9h0M1398.3 1000.5h0M1398.3 783.1h0M1398.4 151.6h0M1398.9 23.2h0M1398.9 378.5h0M1399.0 213.7h0M1399.0 678.5h0M1399.3 636.3h0M1399.5 201.4h0M1399.6 151.6h0M1399.6 180.0h0M1399.7 675.9h0M1400.3 362.4h0M1400.8 458.3h0M1401.3 979.2h0M1401.4 633.5h0M1401.9 752.1h0M1401.9 151.6h0M1402.0 332.0h0M1402.2 201.4h0M1402.7 915.0h0M1402.7 486.7h0M1402.7 491.4h0M1402.8 666.6h0M1403.1 177.4h0M1403.3 732.9h0M1403.8 151.6h0M1404.4 178.2h0M1405.0 201.4h0M1405.5 362.4h0M1405.5 378.5h0M1406.2 201.4h0M1406.4 637.5h0M1406.6 151.6h0M1407.0 45.3h0M1407.2 128.4h0M1407.2 195.7h0M1407.4 35.0h0M1407.6 178.2h0M1408.2 219.7h0M1408.6 45.3h0M1408.6 84.9h0M1408.7 201.4h0M1409.1 35.0h0M1409.3 162.2h0M1409.4 177.6h0M1410.4 694.3h0M1410.7 523.9h0M1412.3 811.8h0M1412.3 872.2h0M1413.3 180.2h0" fill="none" stroke-width="4.80" stroke-linecap="round"/>
<path d="M1404.8 23.1h0M1407.7 23.2h0M1409.9 22.7h0" fill="none" stroke-width="5.20" stroke-linecap="round"/>
<path d="M1395.2 20.1h0M1395.6 408.1h0M1395.9 19.8h0M1396.6 19.3h0M1398.1 24.4h0M1399.6 23.7h0M1401.1 21.5h0M1404.8 20.7h0M1407.7 21.6h0M1409.2 19.4h0M1412.1 24.3h0M1414.3 20.8h0M1417.3 18.7h0" fill="none" stroke-width="5.60" stroke-linecap="round"/>
<path d="M1393.0 21.0h0M1394.4 20.4h0M1394.9 186.4h0M1398.1 19.8h0M1398.9 20.7h0M1400.3 18.4h0M1401.8 19.9h0M1404.0 21.8h0M1408.4 21.1h0M1409.9 19.9h0M1411.4 19.5h0M1412.1 20.4h0M1412.9 20.4h0M1413.6 19.0h0M1416.6 18.1h0" fill="none" stroke-width="6.00" stroke-linecap="round"/>
<path d="M1393.7 20.6h0M1397.4 21.1h0M1399.6 19.6h0M1400.0 28.5h0M1402.5 20.0h0M1406.2 20.9h0M1407.0 19.7h0M1415.8 20.0h0M1418.0 22.1h0" fill="none" stroke-width="6.40" stroke-linecap="round"/>
<path d="M1413.9 705.7H1418.2" fill="none" stroke="#2a7baa" stroke-width="23.6" stroke-linecap="round"/>
<path d="M1418.8 18.0h0M1419.5 20.3h0" fill="none" stroke-width="6.00" stroke-linecap="round"/>
<circle cx="1420.1" cy="209.4" r="11.8" fill="#2a7fb0" stroke="none"/>
<path d="M1423.6 27.4h0" fill="none" stroke-width="4.80" stroke-linecap="round"/>
<path d="M1421.0 20.1h0M1421.7 18.5h0M1423.2 20.8h0M1423.9 20.9h0" fill="none" stroke-width="5.60" stroke-linecap="round"/>
<path d="M1422.5 19.9h0" fill="none" stroke-width="6.00" stroke-linecap="round"/>
<path d="M1420.2 21.3h0" fill="none" stroke-width="6.40" stroke-linecap="round"/>
<path d="M1413.5 19.3H1424.9" fill="none" stroke="#e69a00" stroke-width="22.8" stroke-linecap="round"/>
<path d="M1413.9 467.0H1425.0" fill="none" stroke="#e59400" stroke-width="24.2" stroke-linecap="round"/>
<circle cx="1425.3" cy="209.4" r="11.8" fill="#2a7fb0" stroke="none"/>
<path d="M1425.8 178.6h0M1426.3 362.4h0M1426.3 379.4h0M1426.5 1003.3h0M1426.8 328.0h0M1427.1 491.4h0M1427.1 914.5h0M1428.3 35.6h0M1429.1 805.9h0M1429.2 45.3h0M1429.2 306.7h0M1429.4 984.4h0M1429.8 149.5h0M1429.9 460.2h0M1430.0 175.9h0M1430.2 35.6h0M1430.7 892.1h0M1431.0 639.9h0M1431.2 216.2h0M1431.4 57.2h0M1431.8 201.8h0M1432.0 196.7h0M1432.6 1027.0h0M1432.9 151.6h0M1432.9 638.7h0M1432.9 176.3h0M1433.6 35.6h0M1433.7 196.7h0M1434.2 324.0h0M1434.5 732.2h0M1434.9 41.2h0M1435.1 178.5h0M1435.7 777.9h0M1435.7 24.0h0M1435.8 35.6h0M1435.9 152.0h0M1436.1 324.0h0M1437.1 35.6h0M1437.1 639.9h0M1437.1 855.8h0M1437.5 362.4h0M1437.5 460.2h0M1437.9 177.3h0M1438.1 741.0h0M1438.1 764.2h0M1438.2 286.1h0M1438.2 353.4h0M1438.2 535.7h0M1438.7 428.7h0M1438.8 915.2h0M1439.1 276.6h0M1439.2 975.5h0M1439.4 487.4h0M1439.4 491.4h0M1439.5 666.6h0M1439.7 35.6h0M1440.1 178.7h0M1440.1 428.7h0M1440.6 347.7h0M1440.9 641.0h0M1440.9 589.4h0M1441.6 428.7h0M1442.4 23.2h0M1442.5 347.7h0M1442.6 35.6h0M1442.8 179.0h0M1442.8 641.0h0M1442.8 589.4h0M1443.1 428.7h0M1443.1 201.4h0M1444.1 533.4h0M1444.1 892.1h0M1444.6 428.7h0M1444.8 262.4h0M1444.9 201.4h0M1445.4 858.9h0M1445.6 177.9h0M1445.6 892.1h0M1445.8 152.0h0M1446.0 533.4h0M1446.2 484.8h0M1446.2 497.8h0M1446.4 713.0h0M1446.4 201.4h0M1447.3 763.7h0M1447.4 178.8h0M1447.7 302.4h0M1448.2 57.2h0M1449.1 940.0h0M1449.2 763.7h0M1450.0 328.0h0M1450.5 491.4h0M1451.1 176.9h0M1451.3 27.4h0M1452.2 334.7h0M1452.4 173.1h0M1452.9 466.6h0M1453.0 213.7h0M1453.0 705.7h0M1453.7 642.2h0M1453.7 840.0h0M1454.1 491.4h0M1454.4 179.6h0M1454.4 201.8h0M1454.5 326.1h0M1454.6 213.7h0M1455.1 795.0h0M1455.2 840.0h0M1455.5 491.4h0M1456.3 789.1h0M1456.8 840.0h0M1457.0 491.4h0M1457.0 795.0h0M1457.1 462.3h0M1457.9 35.6h0M1458.2 789.1h0M1458.3 840.0h0M1458.5 491.4h0M1458.7 732.9h0M1458.9 643.4h0M1459.6 776.5h0M1459.8 840.0h0M1460.0 491.4h0M1460.6 27.4h0M1460.6 732.9h0M1460.9 35.6h0M1461.3 840.0h0M1461.6 178.2h0M1461.6 201.8h0M1461.6 460.2h0M1462.3 35.6h0M1462.5 643.9h0M1462.5 653.4h0M1463.1 151.6h0M1463.7 638.0h0M1464.5 151.6h0M1464.6 35.6h0M1465.1 741.0h0M1466.0 645.8h0M1466.1 162.2h0M1466.1 944.4h0M1466.8 35.6h0M1466.9 151.6h0M1466.9 44.5h0M1466.9 98.2h0M1467.0 741.0h0M1467.5 811.1h0M1467.7 647.0h0M1468.2 211.7h0M1468.6 44.5h0M1468.6 98.2h0M1468.8 178.2h0M1469.3 201.8h0M1469.4 466.6h0M1470.2 210.5h0M1471.0 151.6h0M1471.4 213.1h0M1471.8 201.8h0M1472.7 151.6h0M1473.0 454.3h0M1473.1 722.3h0M1473.3 209.7h0M1473.3 902.0h0M1473.9 904.2h0M1474.2 466.6h0M1474.3 724.4h0M1474.4 201.8h0M1475.0 211.3h0M1475.0 727.5h0M1475.2 1034.2h0M1475.8 286.1h0M1475.9 27.4h0M1476.3 151.6h0M1477.3 210.6h0M1477.5 911.4h0" fill="none" stroke-width="4.80" stroke-linecap="round"/>
<path d="M1444.6 24.1h0M1449.0 23.4h0M1453.4 24.4h0" fill="none" stroke-width="5.20" stroke-linecap="round"/>
<path d="M1427.6 18.1h0M1428.4 19.4h0M1429.8 21.2h0M1432.8 19.5h0M1433.5 20.1h0M1434.3 20.0h0M1437.2 20.0h0M1437.9 19.5h0M1438.7 20.1h0M1443.8 20.4h0M1444.6 19.7h0M1451.0 460.2h0M1452.0 22.4h0M1452.7 20.2h0M1452.7 24.2h0M1455.6 20.5h0M1457.9 19.8h0M1458.6 20.5h0M1460.8 20.2h0M1461.5 20.0h0M1463.8 20.3h0M1464.5 20.0h0M1466.0 19.9h0M1466.7 20.1h0M1469.7 19.5h0M1471.1 19.4h0M1473.3 20.7h0M1473.3 23.8h0M1474.8 19.5h0" fill="none" stroke-width="5.60" stroke-linecap="round"/>
<path d="M1426.1 18.7h0M1426.9 18.8h0M1431.3 20.6h0M1435.0 20.2h0M1436.5 19.5h0M1439.4 19.7h0M1441.6 20.1h0M1442.4 19.6h0M1443.1 20.0h0M1445.3 20.4h0M1446.8 20.4h0M1448.3 19.7h0M1449.0 20.7h0M1453.4 19.0h0M1457.1 20.5h0M1459.3 19.4h0M1462.3 19.4h0M1463.0 20.0h0M1468.2 20.7h0M1474.1 19.7h0M1476.3 20.3h0M1477.0 19.6h0" fill="none" stroke-width="6.00" stroke-linecap="round"/>
<path d="M1432.0 20.0h0M1440.2 19.8h0M1440.9 20.4h0M1441.5 347.4h0M1446.1 20.9h0M1447.5 19.8h0M1449.7 20.1h0M1450.5 19.7h0M1451.2 20.1h0M1452.0 20.6h0M1454.9 20.3h0M1456.4 19.8h0M1460.1 20.1h0M1463.8 347.7h0M1465.2 20.1h0M1470.4 20.2h0M1471.9 19.8h0M1472.6 20.4h0M1475.6 20.6h0" fill="none" stroke-width="6.40" stroke-linecap="round"/>
<circle cx="1477.6" cy="180.7" r="6.6" fill="#b5a51d" stroke="none"/>
<circle cx="1477.7" cy="517.0" r="6.6" fill="#74a064" stroke="none"/>
<path d="M1539.5 285.9h0M1539.5 320.9h0M1539.5 392.0h0M1539.5 458.3h0" fill="none" stroke-width="2.80" stroke-linecap="round"/>
<path d="M1477.9 689.1h0M1478.8 705.0h0M1479.2 201.8h0M1479.3 151.6h0M1479.4 524.6h0M1480.7 693.1h0M1480.7 705.0h0M1481.3 310.7h0M1481.4 209.4h0M1481.8 903.9h0M1481.8 151.6h0M1482.1 178.6h0M1482.1 217.2h0M1482.2 201.8h0M1482.4 210.8h0M1483.2 466.6h0M1483.3 169.0h0M1484.1 899.7h0M1484.5 775.6h0M1484.8 451.2h0M1485.0 169.0h0M1485.3 210.9h0M1486.7 358.3h0M1486.7 506.4h0M1487.2 180.7h0M1487.7 277.6h0M1488.1 647.4h0M1488.3 35.6h0M1488.3 209.5h0M1488.4 453.1h0M1488.8 770.8h0M1488.8 803.3h0M1489.7 209.9h0M1490.3 46.3h0M1490.3 48.6h0M1490.3 169.0h0M1490.5 200.4h0M1490.8 464.7h0M1491.2 484.8h0M1491.3 260.7h0M1491.6 211.6h0M1491.9 178.2h0M1492.3 464.7h0M1492.9 413.3h0M1493.2 23.8h0M1493.4 264.4h0M1493.4 200.4h0M1493.8 464.7h0M1494.4 268.1h0M1494.4 200.4h0M1494.8 413.3h0M1495.3 211.1h0M1495.4 464.7h0M1495.4 259.3h0M1496.2 211.5h0M1496.7 270.0h0M1496.9 464.7h0M1497.5 263.4h0M1497.9 454.3h0M1498.5 464.7h0M1499.5 266.5h0M1500.0 210.3h0M1500.0 464.7h0M1500.6 259.3h0M1501.6 647.7h0M1501.7 35.2h0M1502.4 210.3h0M1503.0 810.9h0M1503.1 648.2h0M1503.6 22.8h0M1503.7 177.4h0M1503.8 209.3h0M1503.9 201.0h0M1504.3 162.2h0M1504.7 648.7h0M1505.1 152.0h0M1505.7 39.7h0M1505.7 37.2h0M1506.3 649.3h0M1506.3 286.1h0M1506.5 177.1h0M1506.7 214.1h0M1506.8 201.7h0M1507.0 750.7h0M1507.8 37.6h0M1507.9 649.8h0M1508.0 744.1h0M1508.0 277.1h0M1508.6 178.4h0M1508.7 271.9h0M1508.9 750.7h0M1509.3 891.6h0M1509.5 650.3h0M1510.3 200.5h0M1510.6 35.0h0M1511.0 650.8h0M1511.0 679.2h0M1511.0 334.7h0M1511.3 178.4h0M1511.5 37.4h0M1511.7 975.5h0M1512.6 651.4h0M1513.1 201.3h0M1513.9 276.6h0M1514.1 452.8h0M1514.2 651.9h0M1514.6 411.4h0M1514.7 202.7h0M1515.0 33.8h0M1515.1 176.8h0M1515.7 150.7h0M1515.8 652.4h0M1517.2 35.2h0M1517.4 150.7h0M1517.6 200.4h0M1518.2 177.0h0M1518.4 214.1h0M1518.6 462.5h0M1519.1 35.0h0M1520.0 201.8h0M1520.5 284.2h0M1520.5 371.8h0M1521.1 33.7h0M1521.2 179.8h0M1521.5 56.8h0M1522.1 45.3h0M1522.1 204.9h0M1523.4 732.9h0M1523.5 176.9h0M1523.8 252.5h0M1524.2 265.4h0M1524.4 202.3h0M1524.4 892.9h0M1525.2 732.9h0M1525.3 326.1h0M1526.0 509.9h0M1526.2 27.4h0M1526.6 246.6h0M1527.2 491.4h0M1527.2 493.8h0M1528.1 343.9h0M1528.8 908.2h0M1528.8 306.7h0M1528.9 45.3h0M1528.9 57.8h0M1529.5 529.3h0M1529.5 533.6h0M1530.3 250.5h0M1530.5 940.8h0M1530.9 24.3h0M1531.2 353.4h0M1531.2 412.8h0M1531.3 263.4h0M1531.4 943.6h0M1532.4 307.9h0M1533.9 1051.6h0M1534.3 352.2h0M1535.2 713.0h0M1535.2 863.7h0M1535.9 576.6h0M1535.9 613.3h0M1535.9 522.2h0M1536.6 744.8h0M1537.1 891.6h0M1537.5 244.5h0M1537.6 619.3h0M1537.6 365.4h0M1537.6 367.8h0M1538.0 563.2h0M1539.9 563.2h0M1540.0 162.9h0M1540.0 180.7h0" fill="none" stroke-width="4.80" stroke-linecap="round"/>
<path d="M1495.5 23.4h0M1536.8 22.8h0" fill="none" stroke-width="5.20" stroke-linecap="round"/>
<path d="M1477.8 19.5h0M1481.4 19.6h0M1482.2 20.4h0M1482.9 19.8h0M1485.1 21.0h0M1485.9 19.9h0M1486.6 20.1h0M1487.3 19.5h0M1488.1 19.6h0M1488.8 19.7h0M1489.6 20.4h0M1492.5 20.1h0M1493.2 19.9h0M1494.0 20.6h0M1496.2 20.4h0M1496.9 20.4h0M1499.1 18.9h0M1502.8 19.7h0M1505.8 19.3h0M1509.5 20.1h0M1510.2 19.7h0M1510.9 20.7h0M1513.2 19.3h0M1515.4 20.1h0M1518.3 20.6h0M1523.5 19.3h0M1524.2 20.3h0M1524.2 24.2h0M1527.2 21.1h0M1528.6 19.3h0M1529.4 19.6h0M1530.9 19.7h0M1538.2 20.3h0M1539.0 19.5h0" fill="none" stroke-width="5.60" stroke-linecap="round"/>
<path d="M1478.5 19.4h0M1479.2 20.2h0M1479.8 705.0h0M1480.0 20.2h0M1480.7 20.1h0M1483.7 18.6h0M1491.0 19.3h0M1494.7 20.5h0M1497.7 20.0h0M1498.4 19.7h0M1499.9 20.8h0M1500.6 20.2h0M1501.4 20.1h0M1502.1 19.5h0M1504.3 19.9h0M1505.0 19.6h0M1511.7 20.0h0M1512.4 20.0h0M1513.9 21.0h0M1514.6 19.1h0M1516.1 20.1h0M1516.8 20.3h0M1517.4 150.1h0M1517.6 20.2h0M1519.1 19.5h0M1519.8 19.9h0M1520.5 19.9h0M1521.3 20.1h0M1522.0 19.6h0M1525.0 18.9h0M1526.4 19.4h0M1527.9 19.4h0M1532.3 20.5h0M1533.8 20.7h0M1537.5 20.5h0M1539.7 20.9h0" fill="none" stroke-width="6.00" stroke-linecap="round"/>
<path d="M1490.3 19.2h0M1491.8 18.8h0M1495.5 20.1h0M1506.5 20.2h0M1507.3 20.4h0M1508.0 20.1h0M1508.7 19.7h0M1522.7 20.1h0M1525.7 19.5h0M1530.1 18.7h0M1536.8 20.4h0" fill="none" stroke-width="6.40" stroke-linecap="round"/>
<circle cx="1540.3" cy="19.2" r="14.6" fill="#e23a05" stroke="none"/>
<circle cx="1540.0" cy="20.6" r="14.2" fill="#145a6e" stroke="none"/>
<circle cx="1540.0" cy="151.8" r="14.7" fill="#e33f00" stroke="none"/>
<circle cx="1540.0" cy="177.6" r="14.6" fill="#0a4a57" stroke="none"/>
<circle cx="1540.0" cy="201.4" r="14.8" fill="#e33f00" stroke="none"/>
<path d="M1540.2 740.0h0M1540.2 760.6h0M1540.2 791.9h0M1540.2 839.5h0" fill="none" stroke-width="2.80" stroke-linecap="round"/>
<path d="M1540.2 1049.7h0M1540.2 1045.5h0" fill="none" stroke-width="4.80" stroke-linecap="round"/>
</g>
</svg></body></html>
